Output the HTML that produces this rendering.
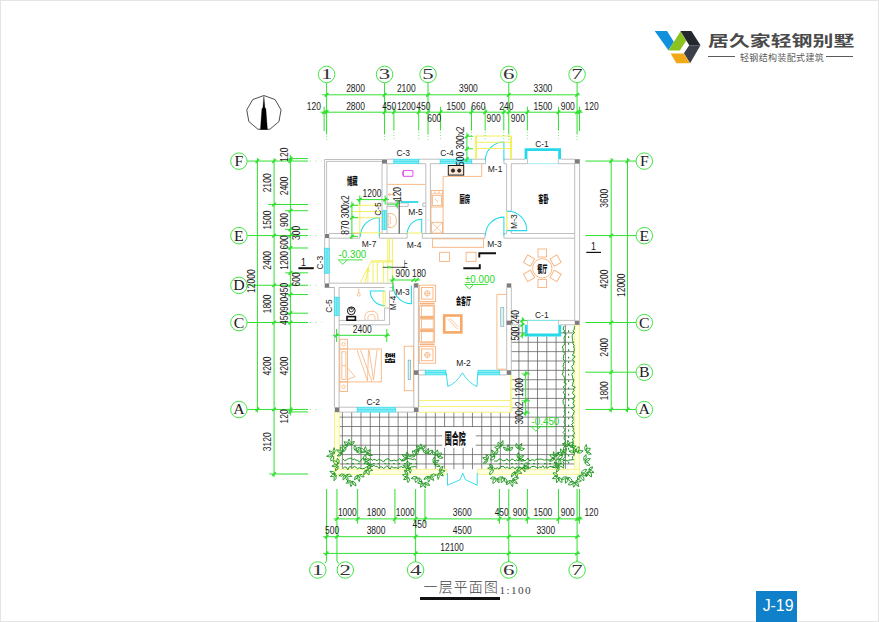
<!DOCTYPE html>
<html lang="zh"><head><meta charset="utf-8"><title>一层平面图 J-19</title>
<style>
html,body{margin:0;padding:0;background:#fff;}
body{width:879px;height:622px;overflow:hidden;position:relative;font-family:"Liberation Sans","Noto Sans CJK SC",sans-serif;}
#frame{position:absolute;left:0;top:0;width:877px;height:620px;border:1px solid #e4e4e4;}
svg{position:absolute;left:0;top:0;}
.ls{font-family:"Liberation Sans","Noto Sans CJK SC",sans-serif;}
.lf{font-family:"Liberation Serif","Noto Serif CJK SC",serif;}
.cj{font-family:"Liberation Sans","Noto Sans CJK SC",sans-serif;}
.brand{position:absolute;left:708px;top:29.3px;width:145px;height:24px;font-weight:700;color:#4a4a4a;font-size:14.3px;line-height:24px;white-space:nowrap;transform-origin:0 0;transform:scale(1.462,1);letter-spacing:0;}
.sub{position:absolute;left:740px;top:51px;font-size:9px;line-height:14px;color:#5a5a5a;white-space:nowrap;letter-spacing:0.35px;}
.hr{position:absolute;top:56px;height:1px;background:#5a5a5a;}
.title{position:absolute;left:423.6px;top:577px;font-size:13.9px;line-height:20px;color:#444;letter-spacing:1.2px;white-space:nowrap;font-family:"Liberation Sans","Noto Sans CJK SC",sans-serif;font-weight:300;}
.scale{position:absolute;left:499.6px;top:581.8px;font-size:11.2px;line-height:16px;color:#444;letter-spacing:1.35px;white-space:nowrap;font-family:"Liberation Serif",serif;}
.uline{position:absolute;left:419.7px;top:597.2px;width:80px;height:2.5px;background:#111;}
.tag{position:absolute;left:756px;top:591px;width:41.4px;height:31px;text-indent:2.8px;background:#0f80c9;color:#fff;font-size:15.9px;line-height:30.6px;text-align:center;}
</style></head><body>
<div id="frame"></div>
<svg width="879" height="622" viewBox="0 0 879 622">
<g id="logo">
<polygon points="654.7,31.1 667.1,31.1 673.9,41.9 668.4,50.3" fill="#1191dc"/>
<polygon points="680.4,31.5 686.2,40.8 679.9,50.5 668.4,50.5" fill="#8cc220"/>
<polygon points="680.4,31.1 691.4,31.1 700.5,45.2 689.2,45.2" fill="#24272e"/>
<polygon points="689.2,45.2 700.5,45.2 690.1,63.3 683.9,53.2" fill="#3b404b"/>
<polygon points="670.6,53.6 683.9,53.6 689.7,63.3 676.4,63.3" fill="#f1a917"/>
</g>
<g stroke="#666666" stroke-width="0.8">
<line x1="342.4" y1="412.3" x2="342.4" y2="469.2"/>
<line x1="351.69" y1="412.3" x2="351.69" y2="469.2"/>
<line x1="360.98" y1="412.3" x2="360.98" y2="469.2"/>
<line x1="370.27" y1="412.3" x2="370.27" y2="469.2"/>
<line x1="379.56" y1="412.3" x2="379.56" y2="469.2"/>
<line x1="388.85" y1="412.3" x2="388.85" y2="469.2"/>
<line x1="398.14" y1="412.3" x2="398.14" y2="469.2"/>
<line x1="407.43" y1="412.3" x2="407.43" y2="469.2"/>
<line x1="416.72" y1="412.3" x2="416.72" y2="469.2"/>
<line x1="426.01" y1="412.3" x2="426.01" y2="469.2"/>
<line x1="435.3" y1="412.3" x2="435.3" y2="469.2"/>
<line x1="444.59" y1="412.3" x2="444.59" y2="469.2"/>
<line x1="453.88" y1="412.3" x2="453.88" y2="469.2"/>
<line x1="463.17" y1="412.3" x2="463.17" y2="469.2"/>
<line x1="472.46" y1="412.3" x2="472.46" y2="469.2"/>
<line x1="481.75" y1="412.3" x2="481.75" y2="469.2"/>
<line x1="491.04" y1="412.3" x2="491.04" y2="469.2"/>
<line x1="500.33" y1="412.3" x2="500.33" y2="469.2"/>
<line x1="509.62" y1="412.3" x2="509.62" y2="469.2"/>
<line x1="518.91" y1="325" x2="518.91" y2="469.2"/>
<line x1="528.2" y1="336.5" x2="528.2" y2="469.2"/>
<line x1="537.49" y1="336.5" x2="537.49" y2="469.2"/>
<line x1="546.78" y1="336.5" x2="546.78" y2="469.2"/>
<line x1="556.07" y1="336.5" x2="556.07" y2="469.2"/>
<line x1="565.36" y1="325" x2="565.36" y2="469.2"/>
<line x1="511.3" y1="332.91" x2="525" y2="332.91"/>
<line x1="561" y1="332.91" x2="574.6" y2="332.91"/>
<line x1="511.3" y1="342.27" x2="574.6" y2="342.27"/>
<line x1="511.3" y1="351.63" x2="574.6" y2="351.63"/>
<line x1="511.3" y1="360.99" x2="574.6" y2="360.99"/>
<line x1="511.3" y1="370.35" x2="574.6" y2="370.35"/>
<line x1="511.3" y1="379.71" x2="574.6" y2="379.71"/>
<line x1="511.3" y1="389.07" x2="574.6" y2="389.07"/>
<line x1="511.3" y1="398.43" x2="574.6" y2="398.43"/>
<line x1="511.3" y1="407.79" x2="574.6" y2="407.79"/>
<line x1="339.3" y1="417.15" x2="574.6" y2="417.15"/>
<line x1="339.3" y1="426.51" x2="574.6" y2="426.51"/>
<line x1="339.3" y1="435.87" x2="574.6" y2="435.87"/>
<line x1="339.3" y1="445.23" x2="574.6" y2="445.23"/>
<line x1="339.3" y1="454.59" x2="574.6" y2="454.59"/>
<line x1="339.3" y1="463.95" x2="574.6" y2="463.95"/>
</g>
<rect x="442.3" y="427.1" width="33.4" height="20.7" fill="#fff" stroke="none" stroke-width="0.8" />
<rect x="334.5" y="412.1" width="4.8" height="62.2" fill="#ffffe4" stroke="#f5f278" stroke-width="0.8" />
<rect x="574.7" y="324.9" width="4.9" height="149.4" fill="#ffffe4" stroke="#f5f278" stroke-width="0.8" />
<rect x="334.5" y="469.2" width="112.4" height="5.1" fill="#ffffe4" stroke="#f5f278" stroke-width="0.8" />
<rect x="477.8" y="469.2" width="101.8" height="5.1" fill="#ffffe4" stroke="#f5f278" stroke-width="0.8" />
<line x1="418.6" y1="400.5" x2="511" y2="400.5" stroke="#f5f278" stroke-width="1.0" />
<line x1="418.6" y1="406.6" x2="511" y2="406.6" stroke="#f5f278" stroke-width="1.0" />
<line x1="418.6" y1="412.2" x2="511" y2="412.2" stroke="#f5f278" stroke-width="1.0" />
<line x1="510.4" y1="375" x2="510.4" y2="412.2" stroke="#f5f278" stroke-width="0.9" />
<line x1="511.8" y1="375" x2="511.8" y2="412.2" stroke="#f5f278" stroke-width="0.9" />
<line x1="418.7" y1="375" x2="418.7" y2="407" stroke="#adadad" stroke-width="0.8" />
<line x1="324.6" y1="159.5" x2="382" y2="159.5" stroke="#adadad" stroke-width="0.8" />
<line x1="326.6" y1="161.4" x2="382" y2="161.4" stroke="#adadad" stroke-width="0.8" />
<line x1="324.6" y1="159.5" x2="324.6" y2="234" stroke="#adadad" stroke-width="0.8" />
<line x1="326.6" y1="161.4" x2="326.6" y2="233.5" stroke="#adadad" stroke-width="0.8" />
<line x1="387" y1="159.2" x2="393.8" y2="159.2" stroke="#adadad" stroke-width="0.8" />
<line x1="387" y1="163.7" x2="393.8" y2="163.7" stroke="#adadad" stroke-width="0.8" />
<rect x="393.8" y="159.2" width="25" height="4.5" fill="#86ecf4" stroke="#25d9ea" stroke-width="0.7" />
<line x1="393.8" y1="161.45" x2="418.8" y2="161.45" stroke="#25d9ea" stroke-width="0.6" />
<line x1="418.8" y1="159.2" x2="440.1" y2="159.2" stroke="#adadad" stroke-width="0.8" />
<line x1="418.8" y1="163.7" x2="425.8" y2="163.7" stroke="#adadad" stroke-width="0.8" />
<line x1="430.4" y1="163.7" x2="440.1" y2="163.7" stroke="#adadad" stroke-width="0.8" />
<rect x="440.1" y="159.2" width="31.7" height="4.5" fill="#86ecf4" stroke="#25d9ea" stroke-width="0.7" />
<line x1="440.1" y1="161.45" x2="471.8" y2="161.45" stroke="#25d9ea" stroke-width="0.6" />
<line x1="471.8" y1="159.2" x2="485.5" y2="159.2" stroke="#adadad" stroke-width="0.8" />
<line x1="471.8" y1="163.7" x2="485.5" y2="163.7" stroke="#adadad" stroke-width="0.8" />
<line x1="485.5" y1="159.2" x2="485.5" y2="163.7" stroke="#adadad" stroke-width="0.8" />
<line x1="503.9" y1="159.2" x2="525" y2="159.2" stroke="#adadad" stroke-width="0.8" />
<line x1="503.9" y1="159.2" x2="503.9" y2="163.7" stroke="#adadad" stroke-width="0.8" />
<line x1="503.9" y1="163.7" x2="506.6" y2="163.7" stroke="#adadad" stroke-width="0.8" />
<line x1="511.3" y1="163.7" x2="527.5" y2="163.7" stroke="#adadad" stroke-width="0.8" />
<line x1="561" y1="159.2" x2="574.7" y2="159.2" stroke="#adadad" stroke-width="0.8" />
<line x1="558.3" y1="163.7" x2="574.7" y2="163.7" stroke="#adadad" stroke-width="0.8" />
<path d="M526 159.2 V149.7 H559.6 V159.2" fill="none" stroke="#25d9ea" stroke-width="2.8" />
<line x1="527.5" y1="163.7" x2="558.3" y2="163.7" stroke="#9eeaf2" stroke-width="0.9" />
<line x1="527.5" y1="159.2" x2="527.5" y2="163.7" stroke="#adadad" stroke-width="0.7" />
<line x1="558.3" y1="159.2" x2="558.3" y2="163.7" stroke="#adadad" stroke-width="0.7" />
<line x1="382" y1="163.6" x2="382" y2="233.5" stroke="#adadad" stroke-width="0.8" />
<line x1="387" y1="163.6" x2="387" y2="233.5" stroke="#adadad" stroke-width="0.8" />
<rect x="382.6" y="210.7" width="3.7" height="18.8" fill="#86ecf4" stroke="#25d9ea" stroke-width="0.7" />
<line x1="384.45" y1="210.7" x2="384.45" y2="229.5" stroke="#25d9ea" stroke-width="0.6" />
<line x1="387" y1="203" x2="408.2" y2="203" stroke="#adadad" stroke-width="0.8" />
<line x1="387" y1="206.4" x2="408.2" y2="206.4" stroke="#adadad" stroke-width="0.8" />
<line x1="408.2" y1="203" x2="408.2" y2="206.4" stroke="#adadad" stroke-width="0.8" />
<line x1="422.8" y1="203" x2="425.8" y2="203" stroke="#adadad" stroke-width="0.8" />
<line x1="422.8" y1="206.4" x2="425.8" y2="206.4" stroke="#adadad" stroke-width="0.8" />
<line x1="422.8" y1="203" x2="422.8" y2="206.4" stroke="#adadad" stroke-width="0.8" />
<line x1="425.8" y1="163.7" x2="425.8" y2="233.5" stroke="#adadad" stroke-width="0.8" />
<line x1="430.4" y1="163.7" x2="430.4" y2="233.5" stroke="#adadad" stroke-width="0.8" />
<line x1="506.6" y1="163.7" x2="506.6" y2="211.5" stroke="#adadad" stroke-width="0.8" />
<line x1="511.3" y1="163.7" x2="511.3" y2="211.5" stroke="#adadad" stroke-width="0.8" />
<line x1="506.6" y1="211.5" x2="511.3" y2="211.5" stroke="#adadad" stroke-width="0.8" />
<line x1="506.6" y1="230.3" x2="506.6" y2="233.5" stroke="#adadad" stroke-width="0.8" />
<line x1="511.3" y1="230.3" x2="511.3" y2="233.5" stroke="#adadad" stroke-width="0.8" />
<line x1="506.6" y1="230.3" x2="511.3" y2="230.3" stroke="#adadad" stroke-width="0.8" />
<line x1="574.7" y1="163.7" x2="574.7" y2="320.7" stroke="#adadad" stroke-width="0.8" />
<line x1="579.6" y1="163.7" x2="579.6" y2="320.7" stroke="#adadad" stroke-width="0.8" />
<line x1="579.6" y1="159.2" x2="579.6" y2="163.7" stroke="#adadad" stroke-width="0.8" />
<line x1="329.2" y1="233.5" x2="359.8" y2="233.5" stroke="#adadad" stroke-width="0.8" />
<line x1="329.2" y1="238.2" x2="359.8" y2="238.2" stroke="#adadad" stroke-width="0.8" />
<line x1="359.8" y1="233.5" x2="359.8" y2="238.2" stroke="#adadad" stroke-width="0.8" />
<line x1="379.4" y1="233.5" x2="407.1" y2="233.5" stroke="#adadad" stroke-width="0.8" />
<line x1="379.4" y1="238.2" x2="407.1" y2="238.2" stroke="#adadad" stroke-width="0.8" />
<line x1="379.4" y1="233.5" x2="379.4" y2="238.2" stroke="#adadad" stroke-width="0.8" />
<line x1="407.1" y1="233.5" x2="407.1" y2="238.2" stroke="#adadad" stroke-width="0.8" />
<line x1="422.3" y1="233.5" x2="485" y2="233.5" stroke="#adadad" stroke-width="0.8" />
<line x1="422.3" y1="238.2" x2="485" y2="238.2" stroke="#adadad" stroke-width="0.8" />
<line x1="422.3" y1="233.5" x2="422.3" y2="238.2" stroke="#adadad" stroke-width="0.8" />
<line x1="485" y1="233.5" x2="485" y2="238.2" stroke="#adadad" stroke-width="0.8" />
<line x1="503.9" y1="233.5" x2="506.6" y2="233.5" stroke="#adadad" stroke-width="0.8" />
<line x1="511.3" y1="233.5" x2="574.7" y2="233.5" stroke="#adadad" stroke-width="0.8" />
<line x1="503.9" y1="238.2" x2="574.7" y2="238.2" stroke="#adadad" stroke-width="0.8" />
<line x1="503.9" y1="233.5" x2="503.9" y2="238.2" stroke="#adadad" stroke-width="0.8" />
<line x1="324.7" y1="238.2" x2="324.7" y2="283.2" stroke="#adadad" stroke-width="0.8" />
<line x1="329.2" y1="238.2" x2="329.2" y2="283.2" stroke="#adadad" stroke-width="0.8" />
<rect x="324.7" y="248.2" width="4.5" height="25" fill="#86ecf4" stroke="#25d9ea" stroke-width="0.7" />
<line x1="326.95" y1="248.2" x2="326.95" y2="273.2" stroke="#25d9ea" stroke-width="0.6" />
<line x1="329.2" y1="283.2" x2="393.7" y2="283.2" stroke="#adadad" stroke-width="0.8" />
<line x1="329.2" y1="287.5" x2="334.4" y2="287.5" stroke="#adadad" stroke-width="0.8" />
<line x1="339.1" y1="287.5" x2="384.6" y2="287.5" stroke="#adadad" stroke-width="0.8" />
<line x1="389.5" y1="287.5" x2="393.7" y2="287.5" stroke="#adadad" stroke-width="0.8" />
<line x1="393.7" y1="283.2" x2="393.7" y2="291" stroke="#adadad" stroke-width="0.8" />
<line x1="389.5" y1="291" x2="393.7" y2="291" stroke="#adadad" stroke-width="0.8" />
<line x1="324.7" y1="287.5" x2="334.4" y2="287.5" stroke="#adadad" stroke-width="0.8" />
<line x1="334.4" y1="287.5" x2="334.4" y2="407.5" stroke="#adadad" stroke-width="0.8" />
<line x1="339.1" y1="287.5" x2="339.1" y2="407.5" stroke="#adadad" stroke-width="0.8" />
<rect x="334.4" y="297.2" width="4.7" height="18.2" fill="#86ecf4" stroke="#25d9ea" stroke-width="0.7" />
<line x1="336.75" y1="297.2" x2="336.75" y2="315.4" stroke="#25d9ea" stroke-width="0.6" />
<line x1="384.6" y1="308" x2="384.6" y2="320.4" stroke="#adadad" stroke-width="0.8" />
<line x1="389.5" y1="291" x2="389.5" y2="324.8" stroke="#adadad" stroke-width="0.8" />
<line x1="384.6" y1="308" x2="389.5" y2="308" stroke="#adadad" stroke-width="0.8" />
<line x1="339.1" y1="320.4" x2="384.6" y2="320.4" stroke="#adadad" stroke-width="0.8" />
<line x1="339.1" y1="324.8" x2="389.5" y2="324.8" stroke="#adadad" stroke-width="0.8" />
<line x1="413.8" y1="287.6" x2="413.8" y2="407.4" stroke="#adadad" stroke-width="0.8" />
<line x1="418.4" y1="287.6" x2="418.4" y2="407.4" stroke="#adadad" stroke-width="0.8" />
<line x1="339.5" y1="407.2" x2="357.2" y2="407.2" stroke="#adadad" stroke-width="0.8" />
<line x1="339.5" y1="412.1" x2="357.2" y2="412.1" stroke="#adadad" stroke-width="0.8" />
<rect x="357.2" y="407.2" width="38.2" height="4.9" fill="#86ecf4" stroke="#25d9ea" stroke-width="0.7" />
<line x1="357.2" y1="409.65" x2="395.4" y2="409.65" stroke="#25d9ea" stroke-width="0.6" />
<line x1="395.4" y1="407.2" x2="414.2" y2="407.2" stroke="#adadad" stroke-width="0.8" />
<line x1="395.4" y1="412.1" x2="414.2" y2="412.1" stroke="#adadad" stroke-width="0.8" />
<line x1="418.5" y1="370.2" x2="425.2" y2="370.2" stroke="#adadad" stroke-width="0.8" />
<line x1="418.5" y1="374.9" x2="425.2" y2="374.9" stroke="#adadad" stroke-width="0.8" />
<rect x="425.2" y="370.2" width="20.7" height="4.7" fill="#86ecf4" stroke="#25d9ea" stroke-width="0.7" />
<line x1="425.2" y1="372.55" x2="445.9" y2="372.55" stroke="#25d9ea" stroke-width="0.6" />
<rect x="478" y="370.2" width="21.7" height="4.7" fill="#86ecf4" stroke="#25d9ea" stroke-width="0.7" />
<line x1="478" y1="372.55" x2="499.7" y2="372.55" stroke="#25d9ea" stroke-width="0.6" />
<line x1="499.7" y1="370.2" x2="506.7" y2="370.2" stroke="#adadad" stroke-width="0.8" />
<line x1="499.7" y1="374.9" x2="506.7" y2="374.9" stroke="#adadad" stroke-width="0.8" />
<line x1="506.7" y1="287.5" x2="506.7" y2="370.2" stroke="#adadad" stroke-width="0.8" />
<line x1="511.3" y1="287.5" x2="511.3" y2="370.2" stroke="#adadad" stroke-width="0.8" />
<line x1="511.3" y1="320.4" x2="574.8" y2="320.4" stroke="#adadad" stroke-width="0.8" />
<line x1="511.3" y1="324.8" x2="525" y2="324.8" stroke="#adadad" stroke-width="0.8" />
<line x1="561" y1="324.8" x2="574.8" y2="324.8" stroke="#adadad" stroke-width="0.8" />
<line x1="527" y1="320.4" x2="558.8" y2="320.4" stroke="#7fe6f0" stroke-width="1.0" />
<path d="M526.3 324.8 V335 H559.8 V324.8" fill="none" stroke="#25d9ea" stroke-width="2.8" />
<line x1="527.6" y1="320.4" x2="527.6" y2="324.8" stroke="#adadad" stroke-width="0.7" />
<line x1="558.5" y1="320.4" x2="558.5" y2="324.8" stroke="#adadad" stroke-width="0.7" />
<rect x="382" y="159.4" width="5" height="4.2" fill="#7d7d7d" stroke="none" stroke-width="0.8" />
<rect x="574.7" y="159.2" width="4.9" height="4.5" fill="#7d7d7d" stroke="none" stroke-width="0.8" />
<rect x="324.7" y="234" width="4.5" height="4.1" fill="#7d7d7d" stroke="none" stroke-width="0.8" />
<rect x="324.7" y="283.4" width="4.5" height="4.1" fill="#7d7d7d" stroke="none" stroke-width="0.8" />
<rect x="413.8" y="283.3" width="4.6" height="4.3" fill="#7d7d7d" stroke="none" stroke-width="0.8" />
<rect x="506.7" y="283.4" width="4.6" height="4.2" fill="#7d7d7d" stroke="none" stroke-width="0.8" />
<rect x="506.7" y="320.6" width="4.6" height="4.3" fill="#7d7d7d" stroke="none" stroke-width="0.8" />
<rect x="574.8" y="320.6" width="4.8" height="4.3" fill="#7d7d7d" stroke="none" stroke-width="0.8" />
<rect x="413.9" y="370.3" width="4.6" height="4.6" fill="#7d7d7d" stroke="none" stroke-width="0.8" />
<rect x="506.7" y="370.2" width="4.6" height="4.7" fill="#7d7d7d" stroke="none" stroke-width="0.8" />
<rect x="334.8" y="407.4" width="4.6" height="4.7" fill="#7d7d7d" stroke="none" stroke-width="0.8" />
<rect x="413.9" y="407.4" width="4.6" height="4.7" fill="#7d7d7d" stroke="none" stroke-width="0.8" />
<path d="M503.9 160.5 L503.9 141.9 A18.6 18.6 0 0 0 485.3 160.5" fill="none" stroke="#25d9ea" stroke-width="1.05" />
<path d="M379.3 236.5 L379.3 217.7 A18.8 18.8 0 0 0 360.5 236.5" fill="none" stroke="#25d9ea" stroke-width="1.05" />
<path d="M421.7 233.6 L421.7 219.3 A14.3 14.3 0 0 0 407.4 233.6" fill="none" stroke="#25d9ea" stroke-width="1.05" />
<path d="M503.9 235.5 L503.9 217.1 A18.4 18.4 0 0 0 485.5 235.5" fill="none" stroke="#25d9ea" stroke-width="1.05" />
<line x1="506.9" y1="211.5" x2="506.9" y2="230.3" stroke="#f1ed4e" stroke-width="1.2" />
<path d="M507.2 230.6 L526.8 230.6 A19.6 19.6 0 0 0 507.2 211" fill="none" stroke="#25d9ea" stroke-width="1.05" />
<path d="M384.8 291 L370.2 291 A14.6 14.6 0 0 0 384.8 305.6" fill="none" stroke="#25d9ea" stroke-width="1.05" />
<line x1="383.2" y1="291" x2="383.2" y2="307" stroke="#f1ed4e" stroke-width="0.9" />
<line x1="385.2" y1="291" x2="385.2" y2="307" stroke="#f1ed4e" stroke-width="0.9" />
<path d="M411.4 285.6 L411.4 303.8 A18.2 18.2 0 0 1 393.2 285.6" fill="none" stroke="#25d9ea" stroke-width="1.05" />
<line x1="407.1" y1="233" x2="422.3" y2="233" stroke="#f1ed4e" stroke-width="0.9" />
<path d="M446.2 372.5 L447.8 386.4 Q456 383.5 462.4 372.8 Q469 383.5 477 386.4 L477.8 372.5" fill="none" stroke="#25d9ea" stroke-width="0.9" />
<path d="M447.5 473 L447.5 485.3 L460.3 479.6 L462.7 473 L465.4 479.6 L477.2 485.3 L477.2 473" fill="none" stroke="#25d9ea" stroke-width="0.9" />
<line x1="400.9" y1="202" x2="418.3" y2="202" stroke="#25d9ea" stroke-width="1.8" />
<line x1="475.3" y1="136" x2="475.3" y2="159.2" stroke="#f1ed4e" stroke-width="0.9" />
<line x1="476.5" y1="136" x2="476.5" y2="159.2" stroke="#f1ed4e" stroke-width="0.9" />
<line x1="510.4" y1="136" x2="510.4" y2="159.2" stroke="#f1ed4e" stroke-width="0.9" />
<line x1="511.5" y1="136" x2="511.5" y2="159.2" stroke="#f1ed4e" stroke-width="0.9" />
<line x1="475.3" y1="136" x2="511.5" y2="136" stroke="#f1ed4e" stroke-width="0.9" />
<line x1="475.3" y1="142.3" x2="511.5" y2="142.3" stroke="#f1ed4e" stroke-width="0.9" />
<line x1="475.3" y1="148.5" x2="511.5" y2="148.5" stroke="#f1ed4e" stroke-width="0.9" />
<line x1="359.8" y1="200" x2="359.8" y2="233.3" stroke="#f1ed4e" stroke-width="0.9" />
<line x1="352" y1="205.3" x2="382" y2="205.3" stroke="#f1ed4e" stroke-width="0.9" />
<line x1="352" y1="211.5" x2="382" y2="211.5" stroke="#f1ed4e" stroke-width="0.9" />
<line x1="352" y1="217.7" x2="382" y2="217.7" stroke="#f1ed4e" stroke-width="0.9" />
<line x1="352" y1="232.9" x2="382" y2="232.9" stroke="#f1ed4e" stroke-width="0.9" />
<line x1="371.3" y1="260.8" x2="393.5" y2="260.8" stroke="#f1ed4e" stroke-width="0.9" />
<line x1="371.3" y1="262" x2="393.5" y2="262" stroke="#f1ed4e" stroke-width="0.9" />
<line x1="371.3" y1="261.3" x2="360" y2="283" stroke="#f1ed4e" stroke-width="0.9" />
<line x1="367.9" y1="268" x2="367.9" y2="283" stroke="#f1ed4e" stroke-width="0.9" />
<line x1="373" y1="262" x2="373" y2="283" stroke="#f1ed4e" stroke-width="0.9" />
<line x1="377.4" y1="262" x2="377.4" y2="283" stroke="#f1ed4e" stroke-width="0.9" />
<line x1="383.3" y1="262" x2="383.3" y2="283" stroke="#f1ed4e" stroke-width="0.9" />
<line x1="387.8" y1="238.2" x2="387.8" y2="283" stroke="#f1ed4e" stroke-width="0.9" />
<line x1="392.4" y1="238.2" x2="392.4" y2="283" stroke="#f1ed4e" stroke-width="0.9" />
<line x1="389.4" y1="238.2" x2="389.4" y2="262" stroke="#f1ed4e" stroke-width="0.9" />
<path d="M365 283 L368.6 268.5 M366.4 271.5 L368.6 268.5 L369 272" fill="none" stroke="#f1ed4e" stroke-width="0.9" />
<line x1="382.7" y1="267.3" x2="405" y2="267.3" stroke="#222" stroke-width="0.8" />
<line x1="387.5" y1="267.3" x2="391" y2="267.3" stroke="#2fe02f" stroke-width="1.8" />
<path d="M481.7 163.9 V176.4 H443.1 V233.4" fill="none" stroke="#f6b27c" stroke-width="0.9" />
<rect x="448.3" y="165.5" width="15.4" height="9.6" fill="#fbe6d6" stroke="#1a1a1a" stroke-width="1.0" />
<circle cx="453" cy="170.6" r="1.6" fill="#333" stroke="#111" stroke-width="0.8"/>
<circle cx="459.2" cy="170.6" r="1.6" fill="#333" stroke="#111" stroke-width="0.8"/>
<rect x="431.2" y="190.4" width="11.6" height="16.6" fill="none" stroke="#f6b27c" stroke-width="0.9" />
<rect x="432.6" y="195.5" width="8.8" height="10.1" fill="none" stroke="#f6b27c" stroke-width="0.8" />
<line x1="431.2" y1="193.8" x2="442.8" y2="193.8" stroke="#f6b27c" stroke-width="0.8" />
<path d="M435 199 L438 202" fill="none" stroke="#f6b27c" stroke-width="0.8" />
<circle cx="435" cy="192.2" r="0.6" fill="none" stroke="#f6b27c" stroke-width="0.6"/>
<circle cx="439" cy="192.2" r="0.6" fill="none" stroke="#f6b27c" stroke-width="0.6"/>
<rect x="431.6" y="222.3" width="11" height="10.8" fill="none" stroke="#f6b27c" stroke-width="0.9" />
<line x1="431.6" y1="222.3" x2="442.6" y2="233.1" stroke="#f6b27c" stroke-width="0.7" />
<line x1="442.6" y1="222.3" x2="431.6" y2="233.1" stroke="#f6b27c" stroke-width="0.7" />
<line x1="431" y1="207" x2="431" y2="222.3" stroke="#f6b27c" stroke-width="0.8" />
<line x1="387.2" y1="184.4" x2="425.6" y2="184.4" stroke="#f6b27c" stroke-width="0.9" />
<path d="M388.2 194.6 H392.5 M388.2 194.6 l1.6 -1.2 M388.2 194.6 l1.6 1.2" fill="none" stroke="#f6b27c" stroke-width="0.9" />
<circle cx="393.6" cy="194.6" r="1.1" fill="none" stroke="#f6b27c" stroke-width="0.8"/>
<path d="M403.4 170.6 H412.9 V176.3 H403.4 Z M403.4 170.6 Q401.3 173.4 403.4 176.3" fill="none" stroke="#e23be2" stroke-width="0.9" />
<path d="M388 213.5 Q396.5 212.5 396.5 220.5 Q396.5 228.5 388 227.5 Z" fill="none" stroke="#f6b27c" stroke-width="0.9" />
<path d="M388.4 216.5 Q391.8 216.8 390 220.5 Q391.8 224.2 388.4 224.5" fill="none" stroke="#f6b27c" stroke-width="0.8" />
<line x1="399.2" y1="200.8" x2="399.2" y2="233.5" stroke="#222" stroke-width="0.9" />
<line x1="395.2" y1="200.8" x2="401.6" y2="200.8" stroke="#222" stroke-width="0.9" />
<rect x="432.4" y="238.8" width="51.2" height="8.5" fill="none" stroke="#f6b27c" stroke-width="0.9" />
<rect x="439.6" y="252.3" width="9.8" height="9.1" fill="none" stroke="#f6b27c" stroke-width="0.9" />
<rect x="466.1" y="252.3" width="9.9" height="9.1" fill="none" stroke="#f6b27c" stroke-width="0.9" />
<path d="M479.3 257.4 V253.2 H496" fill="none" stroke="#111" stroke-width="1.9" />
<path d="M463.3 268.3 H479.8 V264.2" fill="none" stroke="#111" stroke-width="1.9" />
<circle cx="542.3" cy="268.3" r="9.7" fill="none" stroke="#f6b27c" stroke-width="0.9"/>
<rect x="-4.3" y="-4" width="8.6" height="8" fill="none" stroke="#f6b27c" stroke-width="0.9" transform="translate(542.3 253) rotate(0)"/>
<rect x="-4.3" y="-4" width="8.6" height="8" fill="none" stroke="#f6b27c" stroke-width="0.9" transform="translate(555.55 260.65) rotate(60)"/>
<rect x="-4.3" y="-4" width="8.6" height="8" fill="none" stroke="#f6b27c" stroke-width="0.9" transform="translate(555.55 275.95) rotate(120)"/>
<rect x="-4.3" y="-4" width="8.6" height="8" fill="none" stroke="#f6b27c" stroke-width="0.9" transform="translate(542.3 283.6) rotate(180)"/>
<rect x="-4.3" y="-4" width="8.6" height="8" fill="none" stroke="#f6b27c" stroke-width="0.9" transform="translate(529.05 275.95) rotate(240)"/>
<rect x="-4.3" y="-4" width="8.6" height="8" fill="none" stroke="#f6b27c" stroke-width="0.9" transform="translate(529.05 260.65) rotate(-60)"/>
<rect x="419.3" y="285.2" width="16.3" height="16.4" fill="none" stroke="#f6b27c" stroke-width="0.9" />
<rect x="421.5" y="287.5" width="11.5" height="11.6" fill="none" stroke="#f6b27c" stroke-width="0.9" />
<circle cx="427.25" cy="293.4" r="2.6" fill="none" stroke="#f6b27c" stroke-width="0.8"/>
<line x1="423.85" y1="293.4" x2="430.65" y2="293.4" stroke="#f6b27c" stroke-width="0.7" />
<line x1="427.25" y1="290" x2="427.25" y2="296.8" stroke="#f6b27c" stroke-width="0.7" />
<rect x="419.3" y="346.7" width="16.3" height="16.5" fill="none" stroke="#f6b27c" stroke-width="0.9" />
<rect x="421.5" y="349" width="11.5" height="11.7" fill="none" stroke="#f6b27c" stroke-width="0.9" />
<circle cx="427.25" cy="354.95" r="2.6" fill="none" stroke="#f6b27c" stroke-width="0.8"/>
<line x1="423.85" y1="354.95" x2="430.65" y2="354.95" stroke="#f6b27c" stroke-width="0.7" />
<line x1="427.25" y1="351.55" x2="427.25" y2="358.35" stroke="#f6b27c" stroke-width="0.7" />
<rect x="419.4" y="305.7" width="15.2" height="10.8" fill="none" stroke="#f6b27c" stroke-width="0.9" />
<rect x="421.6" y="306" width="11.6" height="10.2" fill="none" stroke="#f6b27c" stroke-width="0.8" />
<rect x="419.4" y="318.8" width="15.2" height="10.4" fill="none" stroke="#f6b27c" stroke-width="0.9" />
<rect x="421.6" y="319.1" width="11.6" height="9.8" fill="none" stroke="#f6b27c" stroke-width="0.8" />
<rect x="419.4" y="331.4" width="15.2" height="10.8" fill="none" stroke="#f6b27c" stroke-width="0.9" />
<rect x="421.6" y="331.7" width="11.6" height="10.2" fill="none" stroke="#f6b27c" stroke-width="0.8" />
<line x1="419.4" y1="303.6" x2="434.6" y2="303.6" stroke="#f6b27c" stroke-width="1.8" />
<line x1="419.4" y1="317.7" x2="434.6" y2="317.7" stroke="#f6b27c" stroke-width="1.8" />
<line x1="419.4" y1="330.3" x2="434.6" y2="330.3" stroke="#f6b27c" stroke-width="1.8" />
<line x1="419.4" y1="344.4" x2="434.6" y2="344.4" stroke="#f6b27c" stroke-width="1.8" />
<rect x="444.2" y="315.5" width="17.1" height="16.9" fill="none" stroke="#f5a868" stroke-width="2.6" />
<line x1="447.5" y1="318.8" x2="457.8" y2="329.3" stroke="#f6b27c" stroke-width="0.8" />
<line x1="449.8" y1="318.2" x2="458.6" y2="327" stroke="#f6b27c" stroke-width="0.8" />
<path d="M506.7 294.4 H496.9 V369.2 H506.7" fill="none" stroke="#f6b27c" stroke-width="0.9" />
<rect x="500.7" y="307.5" width="3" height="18.8" fill="#dff3f5" stroke="#8fb9bd" stroke-width="0.8" />
<path d="M358.8 288.5 V293" fill="none" stroke="#f6b27c" stroke-width="0.9" />
<circle cx="358.8" cy="294.6" r="1.5" fill="none" stroke="#f6b27c" stroke-width="0.8"/>
<rect x="347" y="316.6" width="8.4" height="3.6" fill="#fff" stroke="#111" stroke-width="1.6" />
<circle cx="351.3" cy="310.8" r="3.9" fill="none" stroke="#111" stroke-width="1.0"/>
<circle cx="351.3" cy="309.8" r="2.1" fill="none" stroke="#111" stroke-width="0.8"/>
<line x1="351.3" y1="307.8" x2="351.3" y2="309.8" stroke="#111" stroke-width="0.8" />
<path d="M365 320 Q363.5 311 371.5 311.3 Q378.5 310.5 378 320 M368 319.8 Q367 314.5 371.5 314.5 Q375.8 314.3 375 319.8" fill="none" stroke="#f6b27c" stroke-width="0.8" />
<rect x="339.8" y="339.3" width="7.7" height="9.7" fill="none" stroke="#f6b27c" stroke-width="0.9" />
<rect x="339.8" y="381.9" width="7.7" height="9.6" fill="none" stroke="#f6b27c" stroke-width="0.9" />
<circle cx="343.6" cy="344.2" r="1.7" fill="none" stroke="#f6b27c" stroke-width="0.8"/>
<circle cx="343.6" cy="386.7" r="1.7" fill="none" stroke="#f6b27c" stroke-width="0.8"/>
<rect x="339.8" y="349" width="41.5" height="32.9" fill="none" stroke="#f6b27c" stroke-width="0.9" />
<line x1="347.5" y1="349" x2="347.5" y2="381.9" stroke="#f6b27c" stroke-width="0.9" />
<rect x="341.9" y="351.8" width="4" height="27.7" fill="none" stroke="#f6b27c" stroke-width="0.8" />
<line x1="341.9" y1="365.6" x2="345.9" y2="365.6" stroke="#f6b27c" stroke-width="0.8" />
<path d="M347.5 368 L355 376.5 L347.5 379.5 M357 350 L367.5 381 L368.5 350 M369 350 L373.5 380 L377 350 M360.5 350 L372 381.5" fill="none" stroke="#f6b27c" stroke-width="0.8" />
<rect x="404.3" y="346.2" width="9.2" height="44.5" fill="none" stroke="#f6b27c" stroke-width="0.9" />
<rect x="408.2" y="360.2" width="2.3" height="19.3" fill="#dff3f5" stroke="#6fb7bf" stroke-width="0.8" />
<path d="M343 459.08 L344.62 460.61 L346.24 459.99 L347.87 458.75 L349.49 458.7 L351.11 457.89 L352.73 459.7 L354.36 458.92 L355.98 460.23 L357.6 460.1 L359.22 462.13 L360.84 460.83 L362.47 458.24 L364.09 459.4 L365.71 459.07 L367.33 460.26 L368.96 460.12 L370.58 458.75 L372.2 460.37 L373.82 459.42 L375.44 459.78 L377.07 460.67 L378.69 459.23 L380.31 459.97 L381.93 460.5 L383.56 462.15 L385.18 459.69 L386.8 459 L388.42 458.7 L390.04 460.59 L391.67 460.88 L393.29 460.41 L394.91 460.11 L396.53 460.78 L398.16 459.83 L399.78 458.76 L401.4 460.28 L403.02 460.74 L404.64 459.6 L406.27 458.66 L407.89 458.35 L409.51 458.75 L411.13 458.94 L412.76 459.62 L414.38 458.81 L416 460.03" fill="none" stroke="#1a961a" stroke-width="1.0" stroke-linejoin="round"/>
<path d="M343 468.43 L344.62 467.02 L346.24 467.23 L347.87 469.74 L349.49 466.76 L351.11 466.91 L352.73 467.83 L354.36 466.31 L355.98 467.26 L357.6 468.78 L359.22 467.64 L360.84 468.42 L362.47 468.64 L364.09 468.57 L365.71 467.32 L367.33 466.57 L368.96 465.55 L370.58 466.24 L372.2 466.85 L373.82 465.26 L375.44 466.56 L377.07 466.37 L378.69 468.13 L380.31 466.96 L381.93 466.96 L383.56 468.51 L385.18 467.51 L386.8 465.66 L388.42 467.19 L390.04 469.14 L391.67 466.36 L393.29 467.73 L394.91 467.8 L396.53 467.67 L398.16 468.54 L399.78 466.98 L401.4 466.73 L403.02 467.68 L404.64 467.16 L406.27 468.41 L407.89 468.52 L409.51 468.43 L411.13 466.89 L412.76 466.92 L414.38 466.37 L416 466.97" fill="none" stroke="#1a961a" stroke-width="1.0" stroke-linejoin="round"/>
<path d="M494 461.09 L495.62 461.04 L497.24 461.08 L498.87 459.17 L500.49 459.11 L502.11 460.22 L503.73 460.79 L505.36 460.3 L506.98 458.82 L508.6 460.97 L510.22 460.55 L511.85 459.06 L513.47 459.46 L515.09 461.13 L516.71 459.64 L518.34 460.95 L519.96 458.15 L521.58 460.95 L523.2 458.98 L524.83 461.15 L526.45 459.51 L528.07 458.17 L529.69 461.12 L531.32 459.97 L532.94 459.73 L534.56 460.75 L536.18 459.25 L537.81 459.23 L539.43 459.27 L541.05 458.94 L542.67 459.52 L544.3 460.12 L545.92 459.69 L547.54 459.9 L549.16 460.01 L550.79 459.74 L552.41 458.61 L554.03 459.05 L555.65 460.49 L557.28 459.45 L558.9 460.04 L560.52 458.88 L562.14 459.25 L563.77 460.61 L565.39 460.06 L567.01 460.97 L568.63 460.19 L570.26 459.93 L571.88 459.78 L573.5 459.84" fill="none" stroke="#1a961a" stroke-width="1.0" stroke-linejoin="round"/>
<path d="M494 468.12 L495.63 468.75 L497.26 467.75 L498.88 469.19 L500.51 466.62 L502.14 466.49 L503.77 466.49 L505.4 468.34 L507.02 466.7 L508.65 468.35 L510.28 468.6 L511.91 466.87 L513.53 467.34 L515.16 468.87 L516.79 466.72 L518.42 467.64 L520.05 466.81 L521.67 468.64 L523.3 467.74 L524.93 466.35 L526.56 467.92 L528.19 466.47 L529.81 468.35 L531.44 466.57 L533.07 466.4 L534.7 466.53 L536.33 467.4 L537.95 468.43 L539.58 466.69 L541.21 467.78 L542.84 465.68 L544.47 468.09 L546.09 466.49 L547.72 467.95 L549.35 466.52 L550.98 466.47 L552.6 467.48 L554.23 467.74 L555.86 466.51 L557.49 467.67 L559.12 465.77 L560.74 466.43 L562.37 467.11 L564 468.27" fill="none" stroke="#1a961a" stroke-width="1.0" stroke-linejoin="round"/>
<path d="M564.2 326 L563.48 327.61 L563.03 329.23 L564.81 330.84 L563.39 332.45 L566.23 334.07 L565.03 335.68 L564.19 337.3 L563.92 338.91 L564.69 340.52 L563.79 342.14 L564.74 343.75 L563.95 345.36 L562.11 346.98 L563.08 348.59 L563.06 350.2 L563.12 351.82 L565.16 353.43 L563.63 355.05 L563.66 356.66 L563.31 358.27 L563.58 359.89 L565.43 361.5 L563.54 363.11 L563.7 364.73 L562.9 366.34 L564.13 367.95 L563.42 369.57 L562.91 371.18 L563.13 372.8 L562.06 374.41 L563.69 376.02 L564.42 377.64 L564.85 379.25 L564.76 380.86 L563.91 382.48 L566.47 384.09 L564.78 385.7 L563.01 387.32 L565.22 388.93 L564.81 390.55 L563.26 392.16 L564.21 393.77 L564.99 395.39 L564.42 397 L564.68 398.61 L562.94 400.23 L563.25 401.84 L563.17 403.45 L564.35 405.07 L564.53 406.68 L564.15 408.3 L564.97 409.91 L564.21 411.52 L564.95 413.14 L564.82 414.75 L563.09 416.36 L564.8 417.98 L564.82 419.59 L564.18 421.2 L564.15 422.82 L564.89 424.43 L564.87 426.05 L563.28 427.66 L564.83 429.27 L564.52 430.89 L563.06 432.5 L564.65 434.11 L564.66 435.73 L564.24 437.34 L564.04 438.95 L565.22 440.57 L565.44 442.18 L562.95 443.8 L565.03 445.41 L564.07 447.02 L563.45 448.64 L563.45 450.25 L563.27 451.86 L566.32 453.48 L565.03 455.09 L565.21 456.7 L563.5 458.32 L564.14 459.93 L562.91 461.55 L564.07 463.16 L563.27 464.77 L563.72 466.39 L562.9 468" fill="none" stroke="#1a961a" stroke-width="1.0" stroke-linejoin="round"/>
<path d="M574.79 326 L574.31 327.61 L574.24 329.23 L572.87 330.84 L574.5 332.46 L572.84 334.07 L572.15 335.69 L572.16 337.3 L572.64 338.92 L572.55 340.53 L573.23 342.14 L572.87 343.76 L574.2 345.37 L573.54 346.99 L574.35 348.6 L574.23 350.22 L573.8 351.83 L573.86 353.45 L572.2 355.06 L575.2 356.67 L573.13 358.29 L572.67 359.9 L574.44 361.52 L573.61 363.13 L573.35 364.75 L571.64 366.36 L572.44 367.98 L573.19 369.59 L574.26 371.2 L572.97 372.82 L571.76 374.43 L572.46 376.05 L572.52 377.66 L573.38 379.28 L573.85 380.89 L572.98 382.51 L572.88 384.12 L572.06 385.73 L575.39 387.35 L573.21 388.96 L574.14 390.58 L572.6 392.19 L572.94 393.81 L574.38 395.42 L574.95 397.04 L571.98 398.65 L574.23 400.27 L573.61 401.88 L572.92 403.49 L574.05 405.11 L574.43 406.72 L571.37 408.34 L573.26 409.95 L574.35 411.57 L573.58 413.18 L573.09 414.8 L572 416.41 L572.5 418.02 L573.58 419.64 L572.23 421.25 L573.55 422.87 L571.38 424.48 L573.26 426.1 L572.91 427.71 L573.67 429.33 L572.68 430.94 L574.39 432.55 L574.2 434.17 L572.51 435.78 L574.4 437.4 L572.3 439.01 L573.2 440.63 L572.99 442.24 L573.64 443.86 L571.92 445.47 L572.78 447.08 L573.67 448.7 L573.97 450.31 L573.21 451.93 L574.42 453.54 L574.03 455.16 L572.48 456.77 L572.67 458.39 L573.19 460" fill="none" stroke="#1a961a" stroke-width="1.0" stroke-linejoin="round"/>
<line x1="346.45" y1="463.6" x2="348.25" y2="463.6" stroke="#1a961a" stroke-width="1.1" />
<line x1="352.03" y1="463.6" x2="353.83" y2="463.6" stroke="#1a961a" stroke-width="1.1" />
<line x1="357.73" y1="463.6" x2="359.53" y2="463.6" stroke="#1a961a" stroke-width="1.1" />
<line x1="363.5" y1="463.6" x2="365.3" y2="463.6" stroke="#1a961a" stroke-width="1.1" />
<line x1="367.09" y1="463.6" x2="368.89" y2="463.6" stroke="#1a961a" stroke-width="1.1" />
<line x1="372.79" y1="463.6" x2="374.59" y2="463.6" stroke="#1a961a" stroke-width="1.1" />
<line x1="377.63" y1="463.6" x2="379.43" y2="463.6" stroke="#1a961a" stroke-width="1.1" />
<line x1="384.35" y1="463.6" x2="386.15" y2="463.6" stroke="#1a961a" stroke-width="1.1" />
<line x1="387.88" y1="463.6" x2="389.68" y2="463.6" stroke="#1a961a" stroke-width="1.1" />
<line x1="392.9" y1="463.6" x2="394.7" y2="463.6" stroke="#1a961a" stroke-width="1.1" />
<line x1="398.12" y1="463.6" x2="399.92" y2="463.6" stroke="#1a961a" stroke-width="1.1" />
<line x1="403.99" y1="463.6" x2="405.79" y2="463.6" stroke="#1a961a" stroke-width="1.1" />
<line x1="410.2" y1="463.6" x2="412" y2="463.6" stroke="#1a961a" stroke-width="1.1" />
<line x1="415.37" y1="463.6" x2="417.17" y2="463.6" stroke="#1a961a" stroke-width="1.1" />
<line x1="499.47" y1="463.6" x2="501.27" y2="463.6" stroke="#1a961a" stroke-width="1.1" />
<line x1="505.6" y1="463.6" x2="507.4" y2="463.6" stroke="#1a961a" stroke-width="1.1" />
<line x1="511.06" y1="463.6" x2="512.86" y2="463.6" stroke="#1a961a" stroke-width="1.1" />
<line x1="515.46" y1="463.6" x2="517.26" y2="463.6" stroke="#1a961a" stroke-width="1.1" />
<line x1="520.77" y1="463.6" x2="522.57" y2="463.6" stroke="#1a961a" stroke-width="1.1" />
<line x1="527.87" y1="463.6" x2="529.67" y2="463.6" stroke="#1a961a" stroke-width="1.1" />
<line x1="533.09" y1="463.6" x2="534.89" y2="463.6" stroke="#1a961a" stroke-width="1.1" />
<line x1="537.26" y1="463.6" x2="539.06" y2="463.6" stroke="#1a961a" stroke-width="1.1" />
<line x1="544.13" y1="463.6" x2="545.93" y2="463.6" stroke="#1a961a" stroke-width="1.1" />
<line x1="549.16" y1="463.6" x2="550.96" y2="463.6" stroke="#1a961a" stroke-width="1.1" />
<line x1="554.75" y1="463.6" x2="556.55" y2="463.6" stroke="#1a961a" stroke-width="1.1" />
<line x1="560.26" y1="463.6" x2="562.06" y2="463.6" stroke="#1a961a" stroke-width="1.1" />
<line x1="568.6" y1="330.34" x2="568.6" y2="332.14" stroke="#1a961a" stroke-width="1.1" />
<line x1="568.6" y1="336.21" x2="568.6" y2="338.01" stroke="#1a961a" stroke-width="1.1" />
<line x1="568.6" y1="342.96" x2="568.6" y2="344.76" stroke="#1a961a" stroke-width="1.1" />
<line x1="568.6" y1="349.3" x2="568.6" y2="351.1" stroke="#1a961a" stroke-width="1.1" />
<line x1="568.6" y1="356.71" x2="568.6" y2="358.51" stroke="#1a961a" stroke-width="1.1" />
<line x1="568.6" y1="361.25" x2="568.6" y2="363.05" stroke="#1a961a" stroke-width="1.1" />
<line x1="568.6" y1="369.13" x2="568.6" y2="370.93" stroke="#1a961a" stroke-width="1.1" />
<line x1="568.6" y1="373.81" x2="568.6" y2="375.61" stroke="#1a961a" stroke-width="1.1" />
<line x1="568.6" y1="380.31" x2="568.6" y2="382.11" stroke="#1a961a" stroke-width="1.1" />
<line x1="568.6" y1="387.44" x2="568.6" y2="389.24" stroke="#1a961a" stroke-width="1.1" />
<line x1="568.6" y1="393.64" x2="568.6" y2="395.44" stroke="#1a961a" stroke-width="1.1" />
<line x1="568.6" y1="399.06" x2="568.6" y2="400.86" stroke="#1a961a" stroke-width="1.1" />
<line x1="568.6" y1="404.5" x2="568.6" y2="406.3" stroke="#1a961a" stroke-width="1.1" />
<line x1="568.6" y1="411.55" x2="568.6" y2="413.35" stroke="#1a961a" stroke-width="1.1" />
<line x1="568.6" y1="417.55" x2="568.6" y2="419.35" stroke="#1a961a" stroke-width="1.1" />
<line x1="568.6" y1="424.84" x2="568.6" y2="426.64" stroke="#1a961a" stroke-width="1.1" />
<line x1="568.6" y1="429.59" x2="568.6" y2="431.39" stroke="#1a961a" stroke-width="1.1" />
<line x1="568.6" y1="436.13" x2="568.6" y2="437.93" stroke="#1a961a" stroke-width="1.1" />
<line x1="568.6" y1="443.39" x2="568.6" y2="445.19" stroke="#1a961a" stroke-width="1.1" />
<line x1="568.6" y1="447.86" x2="568.6" y2="449.66" stroke="#1a961a" stroke-width="1.1" />
<line x1="568.6" y1="454.82" x2="568.6" y2="456.62" stroke="#1a961a" stroke-width="1.1" />
<line x1="568.6" y1="461.82" x2="568.6" y2="463.62" stroke="#1a961a" stroke-width="1.1" />
<path d="M-3.06 0 Q0 -2.63 3.06 0 Q0 2.63 -3.06 0 Z" fill="none" stroke="#1a961a" stroke-width="0.85" transform="translate(369.76 466.29) rotate(-34.1)"/>
<path d="M-2.7 0 Q0 -2.67 2.7 0 Q0 2.67 -2.7 0 Z" fill="none" stroke="#1a961a" stroke-width="0.85" transform="translate(370.01 469.68) rotate(14.72)"/>
<path d="M-2.7 0 Q0 -2.5 2.7 0 Q0 2.5 -2.7 0 Z" fill="none" stroke="#1a961a" stroke-width="0.85" transform="translate(367.85 472.23) rotate(65.5)"/>
<path d="M-2.71 0 Q0 -2 2.71 0 Q0 2 -2.71 0 Z" fill="none" stroke="#1a961a" stroke-width="0.85" transform="translate(364.87 472.34) rotate(110.49)"/>
<path d="M-2.68 0 Q0 -2.33 2.68 0 Q0 2.33 -2.68 0 Z" fill="none" stroke="#1a961a" stroke-width="0.85" transform="translate(361.77 475.73) rotate(24.45)"/>
<path d="M-3.22 0 Q0 -2.27 3.22 0 Q0 2.27 -3.22 0 Z" fill="none" stroke="#1a961a" stroke-width="0.85" transform="translate(358.87 478.5) rotate(81.78)"/>
<path d="M-2.82 0 Q0 -2.35 2.82 0 Q0 2.35 -2.82 0 Z" fill="none" stroke="#1a961a" stroke-width="0.85" transform="translate(356.06 477.51) rotate(122.72)"/>
<path d="M-3.08 0 Q0 -2.43 3.08 0 Q0 2.43 -3.08 0 Z" fill="none" stroke="#1a961a" stroke-width="0.85" transform="translate(354.19 483.48) rotate(53.58)"/>
<path d="M-2.74 0 Q0 -2.25 2.74 0 Q0 2.25 -2.74 0 Z" fill="none" stroke="#1a961a" stroke-width="0.85" transform="translate(351.2 483.95) rotate(96.63)"/>
<path d="M-2.56 0 Q0 -2.14 2.56 0 Q0 2.14 -2.56 0 Z" fill="none" stroke="#1a961a" stroke-width="0.85" transform="translate(348.42 481.96) rotate(149.17)"/>
<path d="M-2.74 0 Q0 -2.69 2.74 0 Q0 2.69 -2.74 0 Z" fill="none" stroke="#1a961a" stroke-width="0.85" transform="translate(349.23 475.43) rotate(20.24)"/>
<path d="M-3.24 0 Q0 -2.19 3.24 0 Q0 2.19 -3.24 0 Z" fill="none" stroke="#1a961a" stroke-width="0.85" transform="translate(346.93 478.28) rotate(71.55)"/>
<path d="M-2.57 0 Q0 -2.35 2.57 0 Q0 2.35 -2.57 0 Z" fill="none" stroke="#1a961a" stroke-width="0.85" transform="translate(344.14 477.58) rotate(111.56)"/>
<path d="M-2.84 0 Q0 -2.16 2.84 0 Q0 2.16 -2.84 0 Z" fill="none" stroke="#1a961a" stroke-width="0.85" transform="translate(341.61 475.06) rotate(165.81)"/>
<path d="M-3 0 Q0 -2.08 3 0 Q0 2.08 -3 0 Z" fill="none" stroke="#1a961a" stroke-width="0.85" transform="translate(335.11 477.98) rotate(110.2)"/>
<path d="M-2.72 0 Q0 -2.4 2.72 0 Q0 2.4 -2.72 0 Z" fill="none" stroke="#1a961a" stroke-width="0.85" transform="translate(332.92 475.5) rotate(158.14)"/>
<path d="M-3.05 0 Q0 -2.14 3.05 0 Q0 2.14 -3.05 0 Z" fill="none" stroke="#1a961a" stroke-width="0.85" transform="translate(332.6 472.48) rotate(201.46)"/>
<path d="M-2.74 0 Q0 -2.28 2.74 0 Q0 2.28 -2.74 0 Z" fill="none" stroke="#1a961a" stroke-width="0.85" transform="translate(336.85 468.53) rotate(118.97)"/>
<path d="M-2.88 0 Q0 -2.16 2.88 0 Q0 2.16 -2.88 0 Z" fill="none" stroke="#1a961a" stroke-width="0.85" transform="translate(334.73 465.71) rotate(171.11)"/>
<path d="M-2.99 0 Q0 -2.69 2.99 0 Q0 2.69 -2.99 0 Z" fill="none" stroke="#1a961a" stroke-width="0.85" transform="translate(335.42 462.54) rotate(217.27)"/>
<path d="M-2.86 0 Q0 -2.57 2.86 0 Q0 2.57 -2.86 0 Z" fill="none" stroke="#1a961a" stroke-width="0.85" transform="translate(337.93 461.11) rotate(258.21)"/>
<path d="M-2.64 0 Q0 -2.68 2.64 0 Q0 2.68 -2.64 0 Z" fill="none" stroke="#1a961a" stroke-width="0.85" transform="translate(332.19 458.59) rotate(119.6)"/>
<path d="M-3.2 0 Q0 -2.26 3.2 0 Q0 2.26 -3.2 0 Z" fill="none" stroke="#1a961a" stroke-width="0.85" transform="translate(329.73 455.84) rotate(172.24)"/>
<path d="M-2.84 0 Q0 -2.18 2.84 0 Q0 2.18 -2.84 0 Z" fill="none" stroke="#1a961a" stroke-width="0.85" transform="translate(331.14 452.49) rotate(223.07)"/>
<path d="M-3.21 0 Q0 -2.07 3.21 0 Q0 2.07 -3.21 0 Z" fill="none" stroke="#1a961a" stroke-width="0.85" transform="translate(334.1 450.84) rotate(270.19)"/>
<path d="M-2.65 0 Q0 -2.18 2.65 0 Q0 2.18 -2.65 0 Z" fill="none" stroke="#1a961a" stroke-width="0.85" transform="translate(339.68 454.75) rotate(151.62)"/>
<path d="M-2.99 0 Q0 -2.14 2.99 0 Q0 2.14 -2.99 0 Z" fill="none" stroke="#1a961a" stroke-width="0.85" transform="translate(339.25 451.21) rotate(204.2)"/>
<path d="M-2.75 0 Q0 -2.47 2.75 0 Q0 2.47 -2.75 0 Z" fill="none" stroke="#1a961a" stroke-width="0.85" transform="translate(341.49 449.31) rotate(246.32)"/>
<path d="M-2.73 0 Q0 -2.14 2.73 0 Q0 2.14 -2.73 0 Z" fill="none" stroke="#1a961a" stroke-width="0.85" transform="translate(344.8 449.39) rotate(296.06)"/>
<path d="M-2.91 0 Q0 -2.45 2.91 0 Q0 2.45 -2.91 0 Z" fill="none" stroke="#1a961a" stroke-width="0.85" transform="translate(345.1 446.21) rotate(172.38)"/>
<path d="M-2.62 0 Q0 -2.49 2.62 0 Q0 2.49 -2.62 0 Z" fill="none" stroke="#1a961a" stroke-width="0.85" transform="translate(346.14 443.34) rotate(217.34)"/>
<path d="M-2.71 0 Q0 -2.22 2.71 0 Q0 2.22 -2.71 0 Z" fill="none" stroke="#1a961a" stroke-width="0.85" transform="translate(349.08 441.75) rotate(268.53)"/>
<path d="M-2.73 0 Q0 -2.4 2.73 0 Q0 2.4 -2.73 0 Z" fill="none" stroke="#1a961a" stroke-width="0.85" transform="translate(352.28 443.24) rotate(321.96)"/>
<path d="M-2.65 0 Q0 -2.51 2.65 0 Q0 2.51 -2.65 0 Z" fill="none" stroke="#1a961a" stroke-width="0.85" transform="translate(355.01 447.91) rotate(267.33)"/>
<path d="M-2.5 0 Q0 -2.63 2.5 0 Q0 2.63 -2.5 0 Z" fill="none" stroke="#1a961a" stroke-width="0.85" transform="translate(357.75 449.08) rotate(313.73)"/>
<path d="M-3.12 0 Q0 -2.28 3.12 0 Q0 2.28 -3.12 0 Z" fill="none" stroke="#1a961a" stroke-width="0.85" transform="translate(359.5 452.05) rotate(363.93)"/>
<path d="M-2.98 0 Q0 -2.64 2.98 0 Q0 2.64 -2.98 0 Z" fill="none" stroke="#1a961a" stroke-width="0.85" transform="translate(362.38 450.26) rotate(230.32)"/>
<path d="M-2.97 0 Q0 -2.26 2.97 0 Q0 2.26 -2.97 0 Z" fill="none" stroke="#1a961a" stroke-width="0.85" transform="translate(365.32 449.32) rotate(273.69)"/>
<path d="M-2.61 0 Q0 -2.2 2.61 0 Q0 2.2 -2.61 0 Z" fill="none" stroke="#1a961a" stroke-width="0.85" transform="translate(368.21 451.34) rotate(325.85)"/>
<path d="M-3.19 0 Q0 -2.08 3.19 0 Q0 2.08 -3.19 0 Z" fill="none" stroke="#1a961a" stroke-width="0.85" transform="translate(369.32 454.54) rotate(374.02)"/>
<path d="M-3.21 0 Q0 -2.68 3.21 0 Q0 2.68 -3.21 0 Z" fill="none" stroke="#1a961a" stroke-width="0.85" transform="translate(364.83 457.35) rotate(286.06)"/>
<path d="M-2.54 0 Q0 -2.65 2.54 0 Q0 2.65 -2.54 0 Z" fill="none" stroke="#1a961a" stroke-width="0.85" transform="translate(367.07 460.16) rotate(337.62)"/>
<path d="M-3.18 0 Q0 -2.43 3.18 0 Q0 2.43 -3.18 0 Z" fill="none" stroke="#1a961a" stroke-width="0.85" transform="translate(367.59 463.41) rotate(384.67)"/>
<path d="M-3.12 0 Q0 -2.13 3.12 0 Q0 2.13 -3.12 0 Z" fill="none" stroke="#1a961a" stroke-width="0.85" transform="translate(441.13 468.53) rotate(-51.29)"/>
<path d="M-2.8 0 Q0 -2.36 2.8 0 Q0 2.36 -2.8 0 Z" fill="none" stroke="#1a961a" stroke-width="0.85" transform="translate(442.37 471.24) rotate(-9.58)"/>
<path d="M-2.59 0 Q0 -2.17 2.59 0 Q0 2.17 -2.59 0 Z" fill="none" stroke="#1a961a" stroke-width="0.85" transform="translate(441.33 474.34) rotate(40.08)"/>
<path d="M-3.17 0 Q0 -2.03 3.17 0 Q0 2.03 -3.17 0 Z" fill="none" stroke="#1a961a" stroke-width="0.85" transform="translate(438.31 476.27) rotate(91.49)"/>
<path d="M-2.95 0 Q0 -2.39 2.95 0 Q0 2.39 -2.95 0 Z" fill="none" stroke="#1a961a" stroke-width="0.85" transform="translate(433.59 475.1) rotate(-3.68)"/>
<path d="M-2.73 0 Q0 -2.29 2.73 0 Q0 2.29 -2.73 0 Z" fill="none" stroke="#1a961a" stroke-width="0.85" transform="translate(432.01 478.35) rotate(49.42)"/>
<path d="M-2.82 0 Q0 -2.46 2.82 0 Q0 2.46 -2.82 0 Z" fill="none" stroke="#1a961a" stroke-width="0.85" transform="translate(428.96 479.36) rotate(96.97)"/>
<path d="M-2.83 0 Q0 -2.02 2.83 0 Q0 2.02 -2.83 0 Z" fill="none" stroke="#1a961a" stroke-width="0.85" transform="translate(426.21 477.76) rotate(143.61)"/>
<path d="M-2.84 0 Q0 -2.13 2.84 0 Q0 2.13 -2.84 0 Z" fill="none" stroke="#1a961a" stroke-width="0.85" transform="translate(427.35 483.93) rotate(29.67)"/>
<path d="M-2.58 0 Q0 -2.09 2.58 0 Q0 2.09 -2.58 0 Z" fill="none" stroke="#1a961a" stroke-width="0.85" transform="translate(424.84 485.58) rotate(74.6)"/>
<path d="M-2.57 0 Q0 -2.31 2.57 0 Q0 2.31 -2.57 0 Z" fill="none" stroke="#1a961a" stroke-width="0.85" transform="translate(421.83 485.12) rotate(122.17)"/>
<path d="M-2.53 0 Q0 -2.45 2.53 0 Q0 2.45 -2.53 0 Z" fill="none" stroke="#1a961a" stroke-width="0.85" transform="translate(420.15 482.52) rotate(170.97)"/>
<path d="M-2.88 0 Q0 -2.26 2.88 0 Q0 2.26 -2.88 0 Z" fill="none" stroke="#1a961a" stroke-width="0.85" transform="translate(420.3 480.16) rotate(59.51)"/>
<path d="M-2.6 0 Q0 -2.6 2.6 0 Q0 2.6 -2.6 0 Z" fill="none" stroke="#1a961a" stroke-width="0.85" transform="translate(416.54 480.05) rotate(116.48)"/>
<path d="M-3.05 0 Q0 -2.57 3.05 0 Q0 2.57 -3.05 0 Z" fill="none" stroke="#1a961a" stroke-width="0.85" transform="translate(414.13 477.75) rotate(164.93)"/>
<path d="M-2.62 0 Q0 -2.55 2.62 0 Q0 2.55 -2.62 0 Z" fill="none" stroke="#1a961a" stroke-width="0.85" transform="translate(408.3 479.98) rotate(97.28)"/>
<path d="M-2.55 0 Q0 -2.25 2.55 0 Q0 2.25 -2.55 0 Z" fill="none" stroke="#1a961a" stroke-width="0.85" transform="translate(405.7 478.31) rotate(145.42)"/>
<path d="M-2.62 0 Q0 -2.63 2.62 0 Q0 2.63 -2.62 0 Z" fill="none" stroke="#1a961a" stroke-width="0.85" transform="translate(405.05 475.41) rotate(191.68)"/>
<path d="M-3.11 0 Q0 -2.1 3.11 0 Q0 2.1 -3.11 0 Z" fill="none" stroke="#1a961a" stroke-width="0.85" transform="translate(406.3 472.66) rotate(234.87)"/>
<path d="M-2.74 0 Q0 -2.03 2.74 0 Q0 2.03 -2.74 0 Z" fill="none" stroke="#1a961a" stroke-width="0.85" transform="translate(410.25 470.57) rotate(90.96)"/>
<path d="M-2.62 0 Q0 -2.66 2.62 0 Q0 2.66 -2.62 0 Z" fill="none" stroke="#1a961a" stroke-width="0.85" transform="translate(407.58 469.3) rotate(135.72)"/>
<path d="M-3.17 0 Q0 -2.12 3.17 0 Q0 2.12 -3.17 0 Z" fill="none" stroke="#1a961a" stroke-width="0.85" transform="translate(405.99 465.97) rotate(188.69)"/>
<path d="M-2.59 0 Q0 -2.37 2.59 0 Q0 2.37 -2.59 0 Z" fill="none" stroke="#1a961a" stroke-width="0.85" transform="translate(408.29 463.43) rotate(237.75)"/>
<path d="M-3.16 0 Q0 -2.07 3.16 0 Q0 2.07 -3.16 0 Z" fill="none" stroke="#1a961a" stroke-width="0.85" transform="translate(403.87 459.83) rotate(161.39)"/>
<path d="M-2.97 0 Q0 -2.28 2.97 0 Q0 2.28 -2.97 0 Z" fill="none" stroke="#1a961a" stroke-width="0.85" transform="translate(404.52 456.13) rotate(213.52)"/>
<path d="M-2.7 0 Q0 -2.69 2.7 0 Q0 2.69 -2.7 0 Z" fill="none" stroke="#1a961a" stroke-width="0.85" transform="translate(407.29 454.6) rotate(259.56)"/>
<path d="M-3.06 0 Q0 -2.03 3.06 0 Q0 2.03 -3.06 0 Z" fill="none" stroke="#1a961a" stroke-width="0.85" transform="translate(411.96 456.18) rotate(181.24)"/>
<path d="M-2.69 0 Q0 -2.45 2.69 0 Q0 2.45 -2.69 0 Z" fill="none" stroke="#1a961a" stroke-width="0.85" transform="translate(414.03 453.06) rotate(235.67)"/>
<path d="M-2.94 0 Q0 -2.46 2.94 0 Q0 2.46 -2.94 0 Z" fill="none" stroke="#1a961a" stroke-width="0.85" transform="translate(417.31 452.28) rotate(285.31)"/>
<path d="M-2.82 0 Q0 -2.36 2.82 0 Q0 2.36 -2.82 0 Z" fill="none" stroke="#1a961a" stroke-width="0.85" transform="translate(416.77 450.46) rotate(174.87)"/>
<path d="M-2.6 0 Q0 -2.16 2.6 0 Q0 2.16 -2.6 0 Z" fill="none" stroke="#1a961a" stroke-width="0.85" transform="translate(418.12 447.39) rotate(225.66)"/>
<path d="M-2.52 0 Q0 -2 2.52 0 Q0 2 -2.52 0 Z" fill="none" stroke="#1a961a" stroke-width="0.85" transform="translate(420.85 446.39) rotate(271.24)"/>
<path d="M-2.58 0 Q0 -2.25 2.58 0 Q0 2.25 -2.58 0 Z" fill="none" stroke="#1a961a" stroke-width="0.85" transform="translate(423.51 447.49) rotate(316.26)"/>
<path d="M-2.86 0 Q0 -2.09 2.86 0 Q0 2.09 -2.86 0 Z" fill="none" stroke="#1a961a" stroke-width="0.85" transform="translate(424.52 451.57) rotate(230.98)"/>
<path d="M-2.68 0 Q0 -2.1 2.68 0 Q0 2.1 -2.68 0 Z" fill="none" stroke="#1a961a" stroke-width="0.85" transform="translate(427.88 450.93) rotate(282.11)"/>
<path d="M-2.98 0 Q0 -2.61 2.98 0 Q0 2.61 -2.98 0 Z" fill="none" stroke="#1a961a" stroke-width="0.85" transform="translate(430.35 452.13) rotate(321.7)"/>
<path d="M-2.92 0 Q0 -2.25 2.92 0 Q0 2.25 -2.92 0 Z" fill="none" stroke="#1a961a" stroke-width="0.85" transform="translate(433.74 453.37) rotate(232.02)"/>
<path d="M-2.83 0 Q0 -2.66 2.83 0 Q0 2.66 -2.83 0 Z" fill="none" stroke="#1a961a" stroke-width="0.85" transform="translate(436.97 452.65) rotate(280.02)"/>
<path d="M-2.69 0 Q0 -2.63 2.69 0 Q0 2.63 -2.69 0 Z" fill="none" stroke="#1a961a" stroke-width="0.85" transform="translate(439.6 454.61) rotate(328.9)"/>
<path d="M-2.9 0 Q0 -2.28 2.9 0 Q0 2.28 -2.9 0 Z" fill="none" stroke="#1a961a" stroke-width="0.85" transform="translate(440.31 457.33) rotate(370.01)"/>
<path d="M-3.21 0 Q0 -2.1 3.21 0 Q0 2.1 -3.21 0 Z" fill="none" stroke="#1a961a" stroke-width="0.85" transform="translate(433.95 459.81) rotate(280.76)"/>
<path d="M-2.96 0 Q0 -2.35 2.96 0 Q0 2.35 -2.96 0 Z" fill="none" stroke="#1a961a" stroke-width="0.85" transform="translate(436.54 461.77) rotate(325.25)"/>
<path d="M-3.11 0 Q0 -2.12 3.11 0 Q0 2.12 -3.11 0 Z" fill="none" stroke="#1a961a" stroke-width="0.85" transform="translate(437.24 465.45) rotate(377.67)"/>
<path d="M-2.5 0 Q0 -2.59 2.5 0 Q0 2.59 -2.5 0 Z" fill="none" stroke="#1a961a" stroke-width="0.85" transform="translate(526.03 464.31) rotate(-24.01)"/>
<path d="M-2.85 0 Q0 -2.52 2.85 0 Q0 2.52 -2.85 0 Z" fill="none" stroke="#1a961a" stroke-width="0.85" transform="translate(526.34 467.48) rotate(24.28)"/>
<path d="M-2.67 0 Q0 -2.07 2.67 0 Q0 2.07 -2.67 0 Z" fill="none" stroke="#1a961a" stroke-width="0.85" transform="translate(524.01 469.44) rotate(69.36)"/>
<path d="M-3.13 0 Q0 -2.5 3.13 0 Q0 2.5 -3.13 0 Z" fill="none" stroke="#1a961a" stroke-width="0.85" transform="translate(519.49 469.08) rotate(-20.43)"/>
<path d="M-2.92 0 Q0 -2.31 2.92 0 Q0 2.31 -2.92 0 Z" fill="none" stroke="#1a961a" stroke-width="0.85" transform="translate(519.21 472.22) rotate(23.28)"/>
<path d="M-2.89 0 Q0 -2.19 2.89 0 Q0 2.19 -2.89 0 Z" fill="none" stroke="#1a961a" stroke-width="0.85" transform="translate(516.38 474.57) rotate(76.51)"/>
<path d="M-3.22 0 Q0 -2.15 3.22 0 Q0 2.15 -3.22 0 Z" fill="none" stroke="#1a961a" stroke-width="0.85" transform="translate(513.02 474.3) rotate(123.04)"/>
<path d="M-3.21 0 Q0 -2.52 3.21 0 Q0 2.52 -3.21 0 Z" fill="none" stroke="#1a961a" stroke-width="0.85" transform="translate(515.56 478.55) rotate(-10.43)"/>
<path d="M-3.16 0 Q0 -2.23 3.16 0 Q0 2.23 -3.16 0 Z" fill="none" stroke="#1a961a" stroke-width="0.85" transform="translate(514.86 481.75) rotate(33.4)"/>
<path d="M-3.18 0 Q0 -2.44 3.18 0 Q0 2.44 -3.18 0 Z" fill="none" stroke="#1a961a" stroke-width="0.85" transform="translate(511.94 483.67) rotate(80.52)"/>
<path d="M-3 0 Q0 -2.69 3 0 Q0 2.69 -3 0 Z" fill="none" stroke="#1a961a" stroke-width="0.85" transform="translate(508.35 482.42) rotate(133.06)"/>
<path d="M-3.04 0 Q0 -2.4 3.04 0 Q0 2.4 -3.04 0 Z" fill="none" stroke="#1a961a" stroke-width="0.85" transform="translate(505.7 480.56) rotate(68.29)"/>
<path d="M-2.66 0 Q0 -2.44 2.66 0 Q0 2.44 -2.66 0 Z" fill="none" stroke="#1a961a" stroke-width="0.85" transform="translate(502.5 480.11) rotate(114.99)"/>
<path d="M-3.18 0 Q0 -2.1 3.18 0 Q0 2.1 -3.18 0 Z" fill="none" stroke="#1a961a" stroke-width="0.85" transform="translate(499.99 478.07) rotate(160.69)"/>
<path d="M-2.52 0 Q0 -2.03 2.52 0 Q0 2.03 -2.52 0 Z" fill="none" stroke="#1a961a" stroke-width="0.85" transform="translate(498 480.61) rotate(66.16)"/>
<path d="M-2.98 0 Q0 -2.49 2.98 0 Q0 2.49 -2.98 0 Z" fill="none" stroke="#1a961a" stroke-width="0.85" transform="translate(494.43 480.84) rotate(119.67)"/>
<path d="M-2.55 0 Q0 -2.41 2.55 0 Q0 2.41 -2.55 0 Z" fill="none" stroke="#1a961a" stroke-width="0.85" transform="translate(492.83 477.98) rotate(168.11)"/>
<path d="M-3.15 0 Q0 -2.64 3.15 0 Q0 2.64 -3.15 0 Z" fill="none" stroke="#1a961a" stroke-width="0.85" transform="translate(491.48 472.03) rotate(125.41)"/>
<path d="M-2.58 0 Q0 -2.14 2.58 0 Q0 2.14 -2.58 0 Z" fill="none" stroke="#1a961a" stroke-width="0.85" transform="translate(490.23 468.34) rotate(182.2)"/>
<path d="M-2.53 0 Q0 -2.59 2.53 0 Q0 2.59 -2.53 0 Z" fill="none" stroke="#1a961a" stroke-width="0.85" transform="translate(491.23 465.99) rotate(221.87)"/>
<path d="M-2.57 0 Q0 -2.07 2.57 0 Q0 2.07 -2.57 0 Z" fill="none" stroke="#1a961a" stroke-width="0.85" transform="translate(485.6 461.96) rotate(148.23)"/>
<path d="M-2.65 0 Q0 -2.22 2.65 0 Q0 2.22 -2.65 0 Z" fill="none" stroke="#1a961a" stroke-width="0.85" transform="translate(485.21 458.6) rotate(200.93)"/>
<path d="M-2.52 0 Q0 -2.18 2.52 0 Q0 2.18 -2.52 0 Z" fill="none" stroke="#1a961a" stroke-width="0.85" transform="translate(487.27 456.59) rotate(245.59)"/>
<path d="M-2.88 0 Q0 -2.6 2.88 0 Q0 2.6 -2.88 0 Z" fill="none" stroke="#1a961a" stroke-width="0.85" transform="translate(492.77 458.27) rotate(141.22)"/>
<path d="M-2.52 0 Q0 -2.29 2.52 0 Q0 2.29 -2.52 0 Z" fill="none" stroke="#1a961a" stroke-width="0.85" transform="translate(492.24 455.35) rotate(185.77)"/>
<path d="M-3.08 0 Q0 -2.24 3.08 0 Q0 2.24 -3.08 0 Z" fill="none" stroke="#1a961a" stroke-width="0.85" transform="translate(493.31 452.35) rotate(231.95)"/>
<path d="M-2.9 0 Q0 -2.15 2.9 0 Q0 2.15 -2.9 0 Z" fill="none" stroke="#1a961a" stroke-width="0.85" transform="translate(496.84 451.72) rotate(282.63)"/>
<path d="M-2.65 0 Q0 -2.53 2.65 0 Q0 2.53 -2.65 0 Z" fill="none" stroke="#1a961a" stroke-width="0.85" transform="translate(497.25 447.54) rotate(182.71)"/>
<path d="M-2.5 0 Q0 -2.34 2.5 0 Q0 2.34 -2.5 0 Z" fill="none" stroke="#1a961a" stroke-width="0.85" transform="translate(499.27 444.5) rotate(240.48)"/>
<path d="M-3.1 0 Q0 -2.13 3.1 0 Q0 2.13 -3.1 0 Z" fill="none" stroke="#1a961a" stroke-width="0.85" transform="translate(502.11 443.54) rotate(283.61)"/>
<path d="M-2.71 0 Q0 -2.15 2.71 0 Q0 2.15 -2.71 0 Z" fill="none" stroke="#1a961a" stroke-width="0.85" transform="translate(505.33 448.86) rotate(223.71)"/>
<path d="M-2.87 0 Q0 -2.08 2.87 0 Q0 2.08 -2.87 0 Z" fill="none" stroke="#1a961a" stroke-width="0.85" transform="translate(508.11 447.49) rotate(269.26)"/>
<path d="M-2.56 0 Q0 -2.55 2.56 0 Q0 2.55 -2.56 0 Z" fill="none" stroke="#1a961a" stroke-width="0.85" transform="translate(510.89 448.98) rotate(316.63)"/>
<path d="M-2.8 0 Q0 -2.62 2.8 0 Q0 2.62 -2.8 0 Z" fill="none" stroke="#1a961a" stroke-width="0.85" transform="translate(516.97 446.08) rotate(254.65)"/>
<path d="M-3.17 0 Q0 -2.02 3.17 0 Q0 2.02 -3.17 0 Z" fill="none" stroke="#1a961a" stroke-width="0.85" transform="translate(520.17 446.13) rotate(299.5)"/>
<path d="M-2.7 0 Q0 -2.63 2.7 0 Q0 2.63 -2.7 0 Z" fill="none" stroke="#1a961a" stroke-width="0.85" transform="translate(521.85 449.17) rotate(348.7)"/>
<path d="M-2.9 0 Q0 -2.53 2.9 0 Q0 2.53 -2.9 0 Z" fill="none" stroke="#1a961a" stroke-width="0.85" transform="translate(518.21 455.2) rotate(277.58)"/>
<path d="M-2.98 0 Q0 -2.24 2.98 0 Q0 2.24 -2.98 0 Z" fill="none" stroke="#1a961a" stroke-width="0.85" transform="translate(521.23 457.08) rotate(328.5)"/>
<path d="M-2.62 0 Q0 -2.59 2.62 0 Q0 2.59 -2.62 0 Z" fill="none" stroke="#1a961a" stroke-width="0.85" transform="translate(521.4 460.07) rotate(372.24)"/>
<path d="M-2.59 0 Q0 -2.32 2.59 0 Q0 2.32 -2.59 0 Z" fill="none" stroke="#1a961a" stroke-width="0.85" transform="translate(590.72 468.44) rotate(-35.74)"/>
<path d="M-2.68 0 Q0 -2.13 2.68 0 Q0 2.13 -2.68 0 Z" fill="none" stroke="#1a961a" stroke-width="0.85" transform="translate(591.38 471.68) rotate(15.32)"/>
<path d="M-3.03 0 Q0 -2.59 3.03 0 Q0 2.59 -3.03 0 Z" fill="none" stroke="#1a961a" stroke-width="0.85" transform="translate(589.91 474.22) rotate(57.49)"/>
<path d="M-2.62 0 Q0 -2.17 2.62 0 Q0 2.17 -2.62 0 Z" fill="none" stroke="#1a961a" stroke-width="0.85" transform="translate(586.71 474.36) rotate(104.02)"/>
<path d="M-3.23 0 Q0 -2.51 3.23 0 Q0 2.51 -3.23 0 Z" fill="none" stroke="#1a961a" stroke-width="0.85" transform="translate(583.94 471.24) rotate(-35.23)"/>
<path d="M-3.22 0 Q0 -2.07 3.22 0 Q0 2.07 -3.22 0 Z" fill="none" stroke="#1a961a" stroke-width="0.85" transform="translate(584.64 474.7) rotate(11.9)"/>
<path d="M-3.24 0 Q0 -2.56 3.24 0 Q0 2.56 -3.24 0 Z" fill="none" stroke="#1a961a" stroke-width="0.85" transform="translate(582.35 477.74) rotate(62.72)"/>
<path d="M-2.83 0 Q0 -2.14 2.83 0 Q0 2.14 -2.83 0 Z" fill="none" stroke="#1a961a" stroke-width="0.85" transform="translate(578.66 477.46) rotate(114.21)"/>
<path d="M-2.8 0 Q0 -2.55 2.8 0 Q0 2.55 -2.8 0 Z" fill="none" stroke="#1a961a" stroke-width="0.85" transform="translate(578.62 480.82) rotate(-1.28)"/>
<path d="M-2.88 0 Q0 -2.44 2.88 0 Q0 2.44 -2.88 0 Z" fill="none" stroke="#1a961a" stroke-width="0.85" transform="translate(577.06 484.17) rotate(53.32)"/>
<path d="M-2.61 0 Q0 -2.42 2.61 0 Q0 2.42 -2.61 0 Z" fill="none" stroke="#1a961a" stroke-width="0.85" transform="translate(574.03 484.67) rotate(99.02)"/>
<path d="M-3.06 0 Q0 -2.64 3.06 0 Q0 2.64 -3.06 0 Z" fill="none" stroke="#1a961a" stroke-width="0.85" transform="translate(571.08 483.26) rotate(146.43)"/>
<path d="M-3.04 0 Q0 -2.62 3.04 0 Q0 2.62 -3.04 0 Z" fill="none" stroke="#1a961a" stroke-width="0.85" transform="translate(570.27 479.8) rotate(54.65)"/>
<path d="M-3.03 0 Q0 -2.6 3.03 0 Q0 2.6 -3.03 0 Z" fill="none" stroke="#1a961a" stroke-width="0.85" transform="translate(566.51 480.35) rotate(108.1)"/>
<path d="M-2.98 0 Q0 -2.32 2.98 0 Q0 2.32 -2.98 0 Z" fill="none" stroke="#1a961a" stroke-width="0.85" transform="translate(564.02 478.09) rotate(155.16)"/>
<path d="M-3.03 0 Q0 -2.44 3.03 0 Q0 2.44 -3.03 0 Z" fill="none" stroke="#1a961a" stroke-width="0.85" transform="translate(560.51 480.04) rotate(65.17)"/>
<path d="M-2.82 0 Q0 -2.32 2.82 0 Q0 2.32 -2.82 0 Z" fill="none" stroke="#1a961a" stroke-width="0.85" transform="translate(557.5 480.02) rotate(107.85)"/>
<path d="M-2.81 0 Q0 -2.47 2.81 0 Q0 2.47 -2.81 0 Z" fill="none" stroke="#1a961a" stroke-width="0.85" transform="translate(554.97 477.6) rotate(159.56)"/>
<path d="M-2.64 0 Q0 -2.46 2.64 0 Q0 2.46 -2.64 0 Z" fill="none" stroke="#1a961a" stroke-width="0.85" transform="translate(555.43 474.24) rotate(210.65)"/>
<path d="M-2.91 0 Q0 -2.11 2.91 0 Q0 2.11 -2.91 0 Z" fill="none" stroke="#1a961a" stroke-width="0.85" transform="translate(557.84 469.68) rotate(119.2)"/>
<path d="M-3.21 0 Q0 -2.36 3.21 0 Q0 2.36 -3.21 0 Z" fill="none" stroke="#1a961a" stroke-width="0.85" transform="translate(555.45 466.5) rotate(174.64)"/>
<path d="M-2.93 0 Q0 -2.38 2.93 0 Q0 2.38 -2.93 0 Z" fill="none" stroke="#1a961a" stroke-width="0.85" transform="translate(556.49 463.67) rotate(215.83)"/>
<path d="M-2.88 0 Q0 -2.45 2.88 0 Q0 2.45 -2.88 0 Z" fill="none" stroke="#1a961a" stroke-width="0.85" transform="translate(559.84 462.01) rotate(269.99)"/>
<path d="M-3.01 0 Q0 -2.27 3.01 0 Q0 2.27 -3.01 0 Z" fill="none" stroke="#1a961a" stroke-width="0.85" transform="translate(552.14 459.79) rotate(149.99)"/>
<path d="M-2.59 0 Q0 -2.69 2.59 0 Q0 2.69 -2.59 0 Z" fill="none" stroke="#1a961a" stroke-width="0.85" transform="translate(552.31 456.17) rotate(203.52)"/>
<path d="M-2.54 0 Q0 -2.19 2.54 0 Q0 2.19 -2.54 0 Z" fill="none" stroke="#1a961a" stroke-width="0.85" transform="translate(554.36 454.23) rotate(247.45)"/>
<path d="M-2.51 0 Q0 -2.29 2.51 0 Q0 2.29 -2.51 0 Z" fill="none" stroke="#1a961a" stroke-width="0.85" transform="translate(557.41 454.35) rotate(295.89)"/>
<path d="M-3.06 0 Q0 -2.66 3.06 0 Q0 2.66 -3.06 0 Z" fill="none" stroke="#1a961a" stroke-width="0.85" transform="translate(560.19 457.21) rotate(142.73)"/>
<path d="M-2.66 0 Q0 -2.56 2.66 0 Q0 2.56 -2.66 0 Z" fill="none" stroke="#1a961a" stroke-width="0.85" transform="translate(559.82 453.71) rotate(193.76)"/>
<path d="M-2.66 0 Q0 -2.09 2.66 0 Q0 2.09 -2.66 0 Z" fill="none" stroke="#1a961a" stroke-width="0.85" transform="translate(561.67 451.28) rotate(240.4)"/>
<path d="M-3.11 0 Q0 -2.44 3.11 0 Q0 2.44 -3.11 0 Z" fill="none" stroke="#1a961a" stroke-width="0.85" transform="translate(565.21 450.65) rotate(292.25)"/>
<path d="M-2.98 0 Q0 -2.57 2.98 0 Q0 2.57 -2.98 0 Z" fill="none" stroke="#1a961a" stroke-width="0.85" transform="translate(565.18 445.02) rotate(209.34)"/>
<path d="M-2.85 0 Q0 -2.21 2.85 0 Q0 2.21 -2.85 0 Z" fill="none" stroke="#1a961a" stroke-width="0.85" transform="translate(568.26 443.05) rotate(261.97)"/>
<path d="M-2.59 0 Q0 -2.58 2.59 0 Q0 2.58 -2.59 0 Z" fill="none" stroke="#1a961a" stroke-width="0.85" transform="translate(571.12 444.05) rotate(307.29)"/>
<path d="M-3.14 0 Q0 -2.19 3.14 0 Q0 2.19 -3.14 0 Z" fill="none" stroke="#1a961a" stroke-width="0.85" transform="translate(573.13 446.56) rotate(353.36)"/>
<path d="M-3.04 0 Q0 -2.2 3.04 0 Q0 2.2 -3.04 0 Z" fill="none" stroke="#1a961a" stroke-width="0.85" transform="translate(571.81 451.86) rotate(196.19)"/>
<path d="M-2.73 0 Q0 -2.34 2.73 0 Q0 2.34 -2.73 0 Z" fill="none" stroke="#1a961a" stroke-width="0.85" transform="translate(574.33 449.43) rotate(246.62)"/>
<path d="M-2.98 0 Q0 -2.46 2.98 0 Q0 2.46 -2.98 0 Z" fill="none" stroke="#1a961a" stroke-width="0.85" transform="translate(577.74 449.3) rotate(296.45)"/>
<path d="M-3.2 0 Q0 -2.6 3.2 0 Q0 2.6 -3.2 0 Z" fill="none" stroke="#1a961a" stroke-width="0.85" transform="translate(580.11 451.81) rotate(343.79)"/>
<path d="M-3.12 0 Q0 -2.44 3.12 0 Q0 2.44 -3.12 0 Z" fill="none" stroke="#1a961a" stroke-width="0.85" transform="translate(585.8 447.59) rotate(278.93)"/>
<path d="M-2.51 0 Q0 -2.67 2.51 0 Q0 2.67 -2.51 0 Z" fill="none" stroke="#1a961a" stroke-width="0.85" transform="translate(588.19 449.77) rotate(325.67)"/>
<path d="M-2.69 0 Q0 -2.07 2.69 0 Q0 2.07 -2.69 0 Z" fill="none" stroke="#1a961a" stroke-width="0.85" transform="translate(588.78 453.2) rotate(380.08)"/>
<path d="M-3.18 0 Q0 -2.55 3.18 0 Q0 2.55 -3.18 0 Z" fill="none" stroke="#1a961a" stroke-width="0.85" transform="translate(585 457.54) rotate(287.85)"/>
<path d="M-3.17 0 Q0 -2.43 3.17 0 Q0 2.43 -3.17 0 Z" fill="none" stroke="#1a961a" stroke-width="0.85" transform="translate(587.65 459.93) rotate(336.01)"/>
<path d="M-3 0 Q0 -2.63 3 0 Q0 2.63 -3 0 Z" fill="none" stroke="#1a961a" stroke-width="0.85" transform="translate(587.29 463.82) rotate(390.14)"/>
<line x1="322.1" y1="94.8" x2="580.07" y2="94.8" stroke="#2fe02f" stroke-width="1.0" />
<line x1="320.62" y1="112.2" x2="582.55" y2="112.2" stroke="#2fe02f" stroke-width="1.0" />
<line x1="326.6" y1="82.7" x2="326.6" y2="134.5" stroke="#2fe02f" stroke-width="1.0" />
<line x1="326.6" y1="136" x2="326.6" y2="141" stroke="#2fe02f" stroke-width="0.8" stroke-dasharray="0.8 2.2"/>
<line x1="324.8" y1="96.6" x2="328.4" y2="93" stroke="#2fe02f" stroke-width="1.6" />
<line x1="324.8" y1="114" x2="328.4" y2="110.4" stroke="#2fe02f" stroke-width="1.6" />
<line x1="384.56" y1="82.7" x2="384.56" y2="134.5" stroke="#2fe02f" stroke-width="1.0" />
<line x1="384.56" y1="136" x2="384.56" y2="141" stroke="#2fe02f" stroke-width="0.8" stroke-dasharray="0.8 2.2"/>
<line x1="382.76" y1="96.6" x2="386.36" y2="93" stroke="#2fe02f" stroke-width="1.6" />
<line x1="382.76" y1="114" x2="386.36" y2="110.4" stroke="#2fe02f" stroke-width="1.6" />
<line x1="428.03" y1="82.7" x2="428.03" y2="134.5" stroke="#2fe02f" stroke-width="1.0" />
<line x1="428.03" y1="136" x2="428.03" y2="141" stroke="#2fe02f" stroke-width="0.8" stroke-dasharray="0.8 2.2"/>
<line x1="426.23" y1="96.6" x2="429.83" y2="93" stroke="#2fe02f" stroke-width="1.6" />
<line x1="426.23" y1="114" x2="429.83" y2="110.4" stroke="#2fe02f" stroke-width="1.6" />
<line x1="508.76" y1="82.7" x2="508.76" y2="134.5" stroke="#2fe02f" stroke-width="1.0" />
<line x1="508.76" y1="136" x2="508.76" y2="141" stroke="#2fe02f" stroke-width="0.8" stroke-dasharray="0.8 2.2"/>
<line x1="506.96" y1="96.6" x2="510.56" y2="93" stroke="#2fe02f" stroke-width="1.6" />
<line x1="506.96" y1="114" x2="510.56" y2="110.4" stroke="#2fe02f" stroke-width="1.6" />
<line x1="577.07" y1="82.7" x2="577.07" y2="134.5" stroke="#2fe02f" stroke-width="1.0" />
<line x1="577.07" y1="136" x2="577.07" y2="141" stroke="#2fe02f" stroke-width="0.8" stroke-dasharray="0.8 2.2"/>
<line x1="575.27" y1="96.6" x2="578.87" y2="93" stroke="#2fe02f" stroke-width="1.6" />
<line x1="575.27" y1="114" x2="578.87" y2="110.4" stroke="#2fe02f" stroke-width="1.6" />
<line x1="393.88" y1="106.7" x2="393.88" y2="130.5" stroke="#2fe02f" stroke-width="1.0" />
<line x1="393.88" y1="132" x2="393.88" y2="140" stroke="#2fe02f" stroke-width="0.8" stroke-dasharray="0.8 2.4"/>
<line x1="392.07" y1="114" x2="395.68" y2="110.4" stroke="#2fe02f" stroke-width="1.6" />
<line x1="418.72" y1="106.7" x2="418.72" y2="130.5" stroke="#2fe02f" stroke-width="1.0" />
<line x1="418.72" y1="132" x2="418.72" y2="140" stroke="#2fe02f" stroke-width="0.8" stroke-dasharray="0.8 2.4"/>
<line x1="416.92" y1="114" x2="420.52" y2="110.4" stroke="#2fe02f" stroke-width="1.6" />
<line x1="440.45" y1="106.7" x2="440.45" y2="130.5" stroke="#2fe02f" stroke-width="1.0" />
<line x1="440.45" y1="132" x2="440.45" y2="140" stroke="#2fe02f" stroke-width="0.8" stroke-dasharray="0.8 2.4"/>
<line x1="438.65" y1="114" x2="442.25" y2="110.4" stroke="#2fe02f" stroke-width="1.6" />
<line x1="471.5" y1="106.7" x2="471.5" y2="130.5" stroke="#2fe02f" stroke-width="1.0" />
<line x1="471.5" y1="132" x2="471.5" y2="140" stroke="#2fe02f" stroke-width="0.8" stroke-dasharray="0.8 2.4"/>
<line x1="469.7" y1="114" x2="473.3" y2="110.4" stroke="#2fe02f" stroke-width="1.6" />
<line x1="485.16" y1="106.7" x2="485.16" y2="130.5" stroke="#2fe02f" stroke-width="1.0" />
<line x1="485.16" y1="132" x2="485.16" y2="140" stroke="#2fe02f" stroke-width="0.8" stroke-dasharray="0.8 2.4"/>
<line x1="483.36" y1="114" x2="486.96" y2="110.4" stroke="#2fe02f" stroke-width="1.6" />
<line x1="503.79" y1="106.7" x2="503.79" y2="130.5" stroke="#2fe02f" stroke-width="1.0" />
<line x1="503.79" y1="132" x2="503.79" y2="140" stroke="#2fe02f" stroke-width="0.8" stroke-dasharray="0.8 2.4"/>
<line x1="501.99" y1="114" x2="505.59" y2="110.4" stroke="#2fe02f" stroke-width="1.6" />
<line x1="527.39" y1="106.7" x2="527.39" y2="130.5" stroke="#2fe02f" stroke-width="1.0" />
<line x1="527.39" y1="132" x2="527.39" y2="140" stroke="#2fe02f" stroke-width="0.8" stroke-dasharray="0.8 2.4"/>
<line x1="525.59" y1="114" x2="529.19" y2="110.4" stroke="#2fe02f" stroke-width="1.6" />
<line x1="558.44" y1="106.7" x2="558.44" y2="130.5" stroke="#2fe02f" stroke-width="1.0" />
<line x1="558.44" y1="132" x2="558.44" y2="140" stroke="#2fe02f" stroke-width="0.8" stroke-dasharray="0.8 2.4"/>
<line x1="556.64" y1="114" x2="560.24" y2="110.4" stroke="#2fe02f" stroke-width="1.6" />
<line x1="324.12" y1="106.7" x2="324.12" y2="131" stroke="#2fe02f" stroke-width="1.0" />
<line x1="322.32" y1="114" x2="325.92" y2="110.4" stroke="#2fe02f" stroke-width="1.6" />
<line x1="579.55" y1="106.7" x2="579.55" y2="131" stroke="#2fe02f" stroke-width="1.0" />
<line x1="577.75" y1="114" x2="581.35" y2="110.4" stroke="#2fe02f" stroke-width="1.6" />
<text class="ls" transform="translate(355.58 92.2) scale(0.84 1)" font-size="10.1" text-anchor="middle" fill="#1c1c1c" >2800</text>
<text class="ls" transform="translate(406.3 92.2) scale(0.84 1)" font-size="10.1" text-anchor="middle" fill="#1c1c1c" >2100</text>
<text class="ls" transform="translate(468.39 92.2) scale(0.84 1)" font-size="10.1" text-anchor="middle" fill="#1c1c1c" >3900</text>
<text class="ls" transform="translate(542.91 92.2) scale(0.84 1)" font-size="10.1" text-anchor="middle" fill="#1c1c1c" >3300</text>
<text class="ls" transform="translate(355.58 109.6) scale(0.84 1)" font-size="10.1" text-anchor="middle" fill="#1c1c1c" >2800</text>
<text class="ls" transform="translate(389.22 109.6) scale(0.84 1)" font-size="10.1" text-anchor="middle" fill="#1c1c1c" >450</text>
<text class="ls" transform="translate(406.3 109.6) scale(0.84 1)" font-size="10.1" text-anchor="middle" fill="#1c1c1c" >1200</text>
<text class="ls" transform="translate(423.37 109.6) scale(0.84 1)" font-size="10.1" text-anchor="middle" fill="#1c1c1c" >450</text>
<text class="ls" transform="translate(455.98 109.6) scale(0.84 1)" font-size="10.1" text-anchor="middle" fill="#1c1c1c" >1500</text>
<text class="ls" transform="translate(478.33 109.6) scale(0.84 1)" font-size="10.1" text-anchor="middle" fill="#1c1c1c" >660</text>
<text class="ls" transform="translate(506.28 109.6) scale(0.84 1)" font-size="10.1" text-anchor="middle" fill="#1c1c1c" >240</text>
<text class="ls" transform="translate(542.91 109.6) scale(0.84 1)" font-size="10.1" text-anchor="middle" fill="#1c1c1c" >1500</text>
<text class="ls" transform="translate(567.75 109.6) scale(0.84 1)" font-size="10.1" text-anchor="middle" fill="#1c1c1c" >900</text>
<text class="ls" transform="translate(434.24 121.5) scale(0.84 1)" font-size="10.1" text-anchor="middle" fill="#1c1c1c" >600</text>
<text class="ls" transform="translate(493.68 121.5) scale(0.84 1)" font-size="10.1" text-anchor="middle" fill="#1c1c1c" >900</text>
<text class="ls" transform="translate(517.78 121.5) scale(0.84 1)" font-size="10.1" text-anchor="middle" fill="#1c1c1c" >900</text>
<text class="ls" transform="translate(306.8 109.6) scale(0.84 1)" font-size="10.1" text-anchor="start" fill="#1c1c1c" >120</text>
<text class="ls" transform="translate(584.6 109.6) scale(0.84 1)" font-size="10.1" text-anchor="start" fill="#1c1c1c" >120</text>
<line x1="333.75" y1="518.9" x2="582.55" y2="518.9" stroke="#2fe02f" stroke-width="1.0" />
<line x1="323.1" y1="536.7" x2="580.07" y2="536.7" stroke="#2fe02f" stroke-width="1.0" />
<line x1="323.1" y1="553.4" x2="580.07" y2="553.4" stroke="#2fe02f" stroke-width="1.0" />
<line x1="357.65" y1="489" x2="357.65" y2="523.7" stroke="#2fe02f" stroke-width="1.0" />
<line x1="355.85" y1="520.7" x2="359.45" y2="517.1" stroke="#2fe02f" stroke-width="1.6" />
<line x1="394.91" y1="489" x2="394.91" y2="523.7" stroke="#2fe02f" stroke-width="1.0" />
<line x1="393.11" y1="520.7" x2="396.71" y2="517.1" stroke="#2fe02f" stroke-width="1.6" />
<line x1="424.93" y1="489" x2="424.93" y2="523.7" stroke="#2fe02f" stroke-width="1.0" />
<line x1="423.12" y1="520.7" x2="426.73" y2="517.1" stroke="#2fe02f" stroke-width="1.6" />
<line x1="499.45" y1="489" x2="499.45" y2="523.7" stroke="#2fe02f" stroke-width="1.0" />
<line x1="497.65" y1="520.7" x2="501.25" y2="517.1" stroke="#2fe02f" stroke-width="1.6" />
<line x1="527.39" y1="489" x2="527.39" y2="523.7" stroke="#2fe02f" stroke-width="1.0" />
<line x1="525.59" y1="520.7" x2="529.19" y2="517.1" stroke="#2fe02f" stroke-width="1.6" />
<line x1="558.44" y1="489" x2="558.44" y2="523.7" stroke="#2fe02f" stroke-width="1.0" />
<line x1="556.64" y1="520.7" x2="560.24" y2="517.1" stroke="#2fe02f" stroke-width="1.6" />
<line x1="579.55" y1="489" x2="579.55" y2="523.7" stroke="#2fe02f" stroke-width="1.0" />
<line x1="577.75" y1="520.7" x2="581.35" y2="517.1" stroke="#2fe02f" stroke-width="1.6" />
<line x1="326.6" y1="489" x2="326.6" y2="560.8" stroke="#2fe02f" stroke-width="1.0" />
<line x1="324.8" y1="555.2" x2="328.4" y2="551.6" stroke="#2fe02f" stroke-width="1.6" />
<line x1="324.8" y1="538.5" x2="328.4" y2="534.9" stroke="#2fe02f" stroke-width="1.6" />
<line x1="336.95" y1="489" x2="336.95" y2="560.8" stroke="#2fe02f" stroke-width="1.0" />
<line x1="335.15" y1="520.7" x2="338.75" y2="517.1" stroke="#2fe02f" stroke-width="1.6" />
<line x1="335.15" y1="538.5" x2="338.75" y2="534.9" stroke="#2fe02f" stroke-width="1.6" />
<line x1="415.61" y1="489" x2="415.61" y2="560.8" stroke="#2fe02f" stroke-width="1.0" />
<line x1="413.81" y1="520.7" x2="417.41" y2="517.1" stroke="#2fe02f" stroke-width="1.6" />
<line x1="413.81" y1="555.2" x2="417.41" y2="551.6" stroke="#2fe02f" stroke-width="1.6" />
<line x1="413.81" y1="538.5" x2="417.41" y2="534.9" stroke="#2fe02f" stroke-width="1.6" />
<line x1="508.76" y1="489" x2="508.76" y2="560.8" stroke="#2fe02f" stroke-width="1.0" />
<line x1="506.96" y1="520.7" x2="510.56" y2="517.1" stroke="#2fe02f" stroke-width="1.6" />
<line x1="506.96" y1="555.2" x2="510.56" y2="551.6" stroke="#2fe02f" stroke-width="1.6" />
<line x1="506.96" y1="538.5" x2="510.56" y2="534.9" stroke="#2fe02f" stroke-width="1.6" />
<line x1="577.07" y1="489" x2="577.07" y2="560.8" stroke="#2fe02f" stroke-width="1.0" />
<line x1="575.27" y1="520.7" x2="578.87" y2="517.1" stroke="#2fe02f" stroke-width="1.6" />
<line x1="575.27" y1="555.2" x2="578.87" y2="551.6" stroke="#2fe02f" stroke-width="1.6" />
<line x1="575.27" y1="538.5" x2="578.87" y2="534.9" stroke="#2fe02f" stroke-width="1.6" />
<text class="ls" transform="translate(347.3 515.9) scale(0.84 1)" font-size="10.1" text-anchor="middle" fill="#1c1c1c" >1000</text>
<text class="ls" transform="translate(376.28 515.9) scale(0.84 1)" font-size="10.1" text-anchor="middle" fill="#1c1c1c" >1800</text>
<text class="ls" transform="translate(405.26 515.9) scale(0.84 1)" font-size="10.1" text-anchor="middle" fill="#1c1c1c" >1000</text>
<text class="ls" transform="translate(462.19 515.9) scale(0.84 1)" font-size="10.1" text-anchor="middle" fill="#1c1c1c" >3600</text>
<text class="ls" transform="translate(501.7 515.9) scale(0.84 1)" font-size="10.1" text-anchor="middle" fill="#1c1c1c" >450</text>
<text class="ls" transform="translate(519.88 515.9) scale(0.84 1)" font-size="10.1" text-anchor="middle" fill="#1c1c1c" >900</text>
<text class="ls" transform="translate(542.91 515.9) scale(0.84 1)" font-size="10.1" text-anchor="middle" fill="#1c1c1c" >1500</text>
<text class="ls" transform="translate(567.75 515.9) scale(0.84 1)" font-size="10.1" text-anchor="middle" fill="#1c1c1c" >900</text>
<text class="ls" transform="translate(419.67 527.8) scale(0.84 1)" font-size="10.1" text-anchor="middle" fill="#1c1c1c" >450</text>
<text class="ls" transform="translate(584.4 515.9) scale(0.84 1)" font-size="10.1" text-anchor="start" fill="#1c1c1c" >120</text>
<text class="ls" transform="translate(332.18 534.2) scale(0.84 1)" font-size="10.1" text-anchor="middle" fill="#1c1c1c" >500</text>
<text class="ls" transform="translate(376.08 534.2) scale(0.84 1)" font-size="10.1" text-anchor="middle" fill="#1c1c1c" >3800</text>
<text class="ls" transform="translate(462.19 534.2) scale(0.84 1)" font-size="10.1" text-anchor="middle" fill="#1c1c1c" >4500</text>
<text class="ls" transform="translate(545.8 534.2) scale(0.84 1)" font-size="10.1" text-anchor="middle" fill="#1c1c1c" >3300</text>
<text class="ls" transform="translate(452 550.8) scale(0.84 1)" font-size="10.1" text-anchor="middle" fill="#1c1c1c" >12100</text>
<line x1="257.4" y1="158.05" x2="257.4" y2="412.45" stroke="#2fe02f" stroke-width="1.0" />
<line x1="274.1" y1="158.05" x2="274.1" y2="477.03" stroke="#2fe02f" stroke-width="1.0" />
<line x1="290.4" y1="155.07" x2="290.4" y2="415.43" stroke="#2fe02f" stroke-width="1.0" />
<line x1="247.3" y1="161.05" x2="308" y2="161.05" stroke="#2fe02f" stroke-width="1.0" />
<line x1="272.3" y1="162.85" x2="275.9" y2="159.25" stroke="#2fe02f" stroke-width="1.6" />
<line x1="288.6" y1="162.85" x2="292.2" y2="159.25" stroke="#2fe02f" stroke-width="1.6" />
<line x1="255.6" y1="162.85" x2="259.2" y2="159.25" stroke="#2fe02f" stroke-width="1.6" />
<line x1="310" y1="161.05" x2="322" y2="161.05" stroke="#2fe02f" stroke-width="0.8" stroke-dasharray="0.8 5"/>
<line x1="247.3" y1="235.57" x2="308" y2="235.57" stroke="#2fe02f" stroke-width="1.0" />
<line x1="272.3" y1="237.37" x2="275.9" y2="233.77" stroke="#2fe02f" stroke-width="1.6" />
<line x1="288.6" y1="237.37" x2="292.2" y2="233.77" stroke="#2fe02f" stroke-width="1.6" />
<line x1="310" y1="235.57" x2="322" y2="235.57" stroke="#2fe02f" stroke-width="0.8" stroke-dasharray="0.8 5"/>
<line x1="247.3" y1="285.25" x2="308" y2="285.25" stroke="#2fe02f" stroke-width="1.0" />
<line x1="272.3" y1="287.05" x2="275.9" y2="283.45" stroke="#2fe02f" stroke-width="1.6" />
<line x1="288.6" y1="287.05" x2="292.2" y2="283.45" stroke="#2fe02f" stroke-width="1.6" />
<line x1="310" y1="285.25" x2="322" y2="285.25" stroke="#2fe02f" stroke-width="0.8" stroke-dasharray="0.8 5"/>
<line x1="247.3" y1="322.51" x2="308" y2="322.51" stroke="#2fe02f" stroke-width="1.0" />
<line x1="272.3" y1="324.31" x2="275.9" y2="320.71" stroke="#2fe02f" stroke-width="1.6" />
<line x1="288.6" y1="324.31" x2="292.2" y2="320.71" stroke="#2fe02f" stroke-width="1.6" />
<line x1="310" y1="322.51" x2="322" y2="322.51" stroke="#2fe02f" stroke-width="0.8" stroke-dasharray="0.8 5"/>
<line x1="247.3" y1="409.45" x2="308" y2="409.45" stroke="#2fe02f" stroke-width="1.0" />
<line x1="272.3" y1="411.25" x2="275.9" y2="407.65" stroke="#2fe02f" stroke-width="1.6" />
<line x1="288.6" y1="411.25" x2="292.2" y2="407.65" stroke="#2fe02f" stroke-width="1.6" />
<line x1="255.6" y1="411.25" x2="259.2" y2="407.65" stroke="#2fe02f" stroke-width="1.6" />
<line x1="310" y1="409.45" x2="322" y2="409.45" stroke="#2fe02f" stroke-width="0.8" stroke-dasharray="0.8 5"/>
<line x1="268.2" y1="204.52" x2="308" y2="204.52" stroke="#2fe02f" stroke-width="1.0" />
<line x1="272.3" y1="206.32" x2="275.9" y2="202.72" stroke="#2fe02f" stroke-width="1.6" />
<line x1="285.2" y1="210.73" x2="308" y2="210.73" stroke="#2fe02f" stroke-width="1.0" />
<line x1="288.6" y1="212.53" x2="292.2" y2="208.93" stroke="#2fe02f" stroke-width="1.6" />
<line x1="285.2" y1="229.36" x2="308" y2="229.36" stroke="#2fe02f" stroke-width="1.0" />
<line x1="288.6" y1="231.16" x2="292.2" y2="227.56" stroke="#2fe02f" stroke-width="1.6" />
<line x1="285.2" y1="247.99" x2="308" y2="247.99" stroke="#2fe02f" stroke-width="1.0" />
<line x1="288.6" y1="249.79" x2="292.2" y2="246.19" stroke="#2fe02f" stroke-width="1.6" />
<line x1="285.2" y1="272.83" x2="308" y2="272.83" stroke="#2fe02f" stroke-width="1.0" />
<line x1="288.6" y1="274.63" x2="292.2" y2="271.03" stroke="#2fe02f" stroke-width="1.6" />
<line x1="285.2" y1="294.56" x2="308" y2="294.56" stroke="#2fe02f" stroke-width="1.0" />
<line x1="288.6" y1="296.37" x2="292.2" y2="292.76" stroke="#2fe02f" stroke-width="1.6" />
<line x1="285.2" y1="313.2" x2="308" y2="313.2" stroke="#2fe02f" stroke-width="1.0" />
<line x1="288.6" y1="315" x2="292.2" y2="311.4" stroke="#2fe02f" stroke-width="1.6" />
<line x1="289.4" y1="158.57" x2="308" y2="158.57" stroke="#2fe02f" stroke-width="1.0" />
<line x1="288.6" y1="160.37" x2="292.2" y2="156.77" stroke="#2fe02f" stroke-width="1.6" />
<line x1="289.4" y1="411.93" x2="308" y2="411.93" stroke="#2fe02f" stroke-width="1.0" />
<line x1="288.6" y1="413.73" x2="292.2" y2="410.13" stroke="#2fe02f" stroke-width="1.6" />
<line x1="269.4" y1="474.03" x2="308" y2="474.03" stroke="#2fe02f" stroke-width="1.0" />
<line x1="272.3" y1="475.83" x2="275.9" y2="472.23" stroke="#2fe02f" stroke-width="1.6" />
<text class="ls" transform="translate(254.8 281.11) rotate(-90) scale(0.84 1)" font-size="10.1" text-anchor="middle" fill="#1c1c1c" >12000</text>
<text class="ls" transform="translate(271.4 182.79) rotate(-90) scale(0.84 1)" font-size="10.1" text-anchor="middle" fill="#1c1c1c" >2100</text>
<text class="ls" transform="translate(271.4 220.05) rotate(-90) scale(0.84 1)" font-size="10.1" text-anchor="middle" fill="#1c1c1c" >1500</text>
<text class="ls" transform="translate(271.4 260.41) rotate(-90) scale(0.84 1)" font-size="10.1" text-anchor="middle" fill="#1c1c1c" >2400</text>
<text class="ls" transform="translate(271.4 303.88) rotate(-90) scale(0.84 1)" font-size="10.1" text-anchor="middle" fill="#1c1c1c" >1800</text>
<text class="ls" transform="translate(271.4 365.98) rotate(-90) scale(0.84 1)" font-size="10.1" text-anchor="middle" fill="#1c1c1c" >4200</text>
<text class="ls" transform="translate(271.4 441.74) rotate(-90) scale(0.84 1)" font-size="10.1" text-anchor="middle" fill="#1c1c1c" >3120</text>
<text class="ls" transform="translate(287.7 185.89) rotate(-90) scale(0.84 1)" font-size="10.1" text-anchor="middle" fill="#1c1c1c" >2400</text>
<text class="ls" transform="translate(287.7 220.05) rotate(-90) scale(0.84 1)" font-size="10.1" text-anchor="middle" fill="#1c1c1c" >900</text>
<text class="ls" transform="translate(287.7 260.41) rotate(-90) scale(0.84 1)" font-size="10.1" text-anchor="middle" fill="#1c1c1c" >1200</text>
<text class="ls" transform="translate(287.7 289.91) rotate(-90) scale(0.84 1)" font-size="10.1" text-anchor="middle" fill="#1c1c1c" >450</text>
<text class="ls" transform="translate(287.7 303.88) rotate(-90) scale(0.84 1)" font-size="10.1" text-anchor="middle" fill="#1c1c1c" >900</text>
<text class="ls" transform="translate(287.7 317.85) rotate(-90) scale(0.84 1)" font-size="10.1" text-anchor="middle" fill="#1c1c1c" >450</text>
<text class="ls" transform="translate(287.7 365.98) rotate(-90) scale(0.84 1)" font-size="10.1" text-anchor="middle" fill="#1c1c1c" >4200</text>
<text class="ls" transform="translate(287.7 242.38) rotate(-90) scale(0.84 1)" font-size="10.1" text-anchor="middle" fill="#1c1c1c" >600</text>
<text class="ls" transform="translate(299.8 232.97) rotate(-90) scale(0.84 1)" font-size="10.1" text-anchor="middle" fill="#1c1c1c" >300</text>
<text class="ls" transform="translate(299.8 279.34) rotate(-90) scale(0.84 1)" font-size="10.1" text-anchor="middle" fill="#1c1c1c" >600</text>
<text class="ls" transform="translate(287.7 154.6) rotate(-90) scale(0.84 1)" font-size="10.1" text-anchor="middle" fill="#1c1c1c" >120</text>
<text class="ls" transform="translate(287.7 416.4) rotate(-90) scale(0.84 1)" font-size="10.1" text-anchor="middle" fill="#1c1c1c" >120</text>
<line x1="611.2" y1="158.05" x2="611.2" y2="412.45" stroke="#2fe02f" stroke-width="1.0" />
<line x1="627.5" y1="158.05" x2="627.5" y2="412.45" stroke="#2fe02f" stroke-width="1.0" />
<line x1="585.4" y1="161.05" x2="636" y2="161.05" stroke="#2fe02f" stroke-width="1.0" />
<line x1="609.4" y1="162.85" x2="613" y2="159.25" stroke="#2fe02f" stroke-width="1.6" />
<line x1="625.7" y1="162.85" x2="629.3" y2="159.25" stroke="#2fe02f" stroke-width="1.6" />
<line x1="585.4" y1="235.57" x2="636" y2="235.57" stroke="#2fe02f" stroke-width="1.0" />
<line x1="609.4" y1="237.37" x2="613" y2="233.77" stroke="#2fe02f" stroke-width="1.6" />
<line x1="585.4" y1="322.51" x2="636" y2="322.51" stroke="#2fe02f" stroke-width="1.0" />
<line x1="609.4" y1="324.31" x2="613" y2="320.71" stroke="#2fe02f" stroke-width="1.6" />
<line x1="585.4" y1="372.19" x2="636" y2="372.19" stroke="#2fe02f" stroke-width="1.0" />
<line x1="609.4" y1="373.99" x2="613" y2="370.39" stroke="#2fe02f" stroke-width="1.6" />
<line x1="585.4" y1="409.45" x2="636" y2="409.45" stroke="#2fe02f" stroke-width="1.0" />
<line x1="609.4" y1="411.25" x2="613" y2="407.65" stroke="#2fe02f" stroke-width="1.6" />
<line x1="625.7" y1="411.25" x2="629.3" y2="407.65" stroke="#2fe02f" stroke-width="1.6" />
<text class="ls" transform="translate(608.4 198.31) rotate(-90) scale(0.84 1)" font-size="10.1" text-anchor="middle" fill="#1c1c1c" >3600</text>
<text class="ls" transform="translate(608.4 279.04) rotate(-90) scale(0.84 1)" font-size="10.1" text-anchor="middle" fill="#1c1c1c" >4200</text>
<text class="ls" transform="translate(608.4 347.35) rotate(-90) scale(0.84 1)" font-size="10.1" text-anchor="middle" fill="#1c1c1c" >2400</text>
<text class="ls" transform="translate(608.4 390.82) rotate(-90) scale(0.84 1)" font-size="10.1" text-anchor="middle" fill="#1c1c1c" >1800</text>
<text class="ls" transform="translate(624.7 285.25) rotate(-90) scale(0.84 1)" font-size="10.1" text-anchor="middle" fill="#1c1c1c" >12000</text>
<line x1="356.5" y1="199.6" x2="389" y2="199.6" stroke="#2fe02f" stroke-width="1.0" />
<line x1="359.8" y1="195.5" x2="359.8" y2="204.5" stroke="#2fe02f" stroke-width="1.0" />
<line x1="385.2" y1="195.5" x2="385.2" y2="204.5" stroke="#2fe02f" stroke-width="1.0" />
<line x1="358" y1="201.4" x2="361.6" y2="197.8" stroke="#2fe02f" stroke-width="1.6" />
<line x1="383.4" y1="201.4" x2="387" y2="197.8" stroke="#2fe02f" stroke-width="1.6" />
<text class="ls" transform="translate(372 196.8) scale(0.84 1)" font-size="10.1" text-anchor="middle" fill="#1c1c1c" >1200</text>
<line x1="351.9" y1="201.5" x2="351.9" y2="239" stroke="#2fe02f" stroke-width="1.0" />
<line x1="350.1" y1="207.1" x2="353.7" y2="203.5" stroke="#2fe02f" stroke-width="1.6" />
<line x1="350.1" y1="219.5" x2="353.7" y2="215.9" stroke="#2fe02f" stroke-width="1.6" />
<line x1="350.1" y1="238.2" x2="353.7" y2="234.6" stroke="#2fe02f" stroke-width="1.6" />
<line x1="351.9" y1="205.3" x2="358" y2="205.3" stroke="#2fe02f" stroke-width="1.0" />
<line x1="351.9" y1="217.7" x2="358" y2="217.7" stroke="#2fe02f" stroke-width="1.0" />
<line x1="351.9" y1="236.4" x2="358" y2="236.4" stroke="#2fe02f" stroke-width="1.0" />
<text class="ls" transform="translate(349.2 215) rotate(-90) scale(0.84 1)" font-size="10.1" text-anchor="middle" fill="#1c1c1c" >870 300x2</text>
<line x1="387" y1="204.2" x2="397.2" y2="204.2" stroke="#2fe02f" stroke-width="1.0" />
<line x1="397.2" y1="199.5" x2="397.2" y2="208.5" stroke="#2fe02f" stroke-width="1.0" />
<line x1="395.4" y1="206" x2="399" y2="202.4" stroke="#2fe02f" stroke-width="1.6" />
<text class="ls" transform="translate(400.6 194) rotate(-90) scale(0.84 1)" font-size="10.1" text-anchor="middle" fill="#1c1c1c" >120</text>
<line x1="466.9" y1="132.5" x2="466.9" y2="162" stroke="#2fe02f" stroke-width="1.0" />
<line x1="465.1" y1="138.1" x2="468.7" y2="134.5" stroke="#2fe02f" stroke-width="1.6" />
<line x1="465.1" y1="150.6" x2="468.7" y2="147" stroke="#2fe02f" stroke-width="1.6" />
<line x1="465.1" y1="161" x2="468.7" y2="157.4" stroke="#2fe02f" stroke-width="1.6" />
<line x1="466.9" y1="136.3" x2="473" y2="136.3" stroke="#2fe02f" stroke-width="1.0" />
<line x1="466.9" y1="148.8" x2="473" y2="148.8" stroke="#2fe02f" stroke-width="1.0" />
<text class="ls" transform="translate(464.2 146.2) rotate(-90) scale(0.84 1)" font-size="10.1" text-anchor="middle" fill="#1c1c1c" >500 300x2</text>
<line x1="389.5" y1="280" x2="420" y2="280" stroke="#2fe02f" stroke-width="1.0" />
<line x1="392.8" y1="275.5" x2="392.8" y2="291" stroke="#2fe02f" stroke-width="1.0" />
<line x1="391" y1="281.8" x2="394.6" y2="278.2" stroke="#2fe02f" stroke-width="1.6" />
<line x1="411.5" y1="281.8" x2="415.1" y2="278.2" stroke="#2fe02f" stroke-width="1.6" />
<line x1="415" y1="281.8" x2="418.6" y2="278.2" stroke="#2fe02f" stroke-width="1.6" />
<text class="ls" transform="translate(402.6 277.4) scale(0.84 1)" font-size="10.1" text-anchor="middle" fill="#1c1c1c" >900</text>
<text class="ls" transform="translate(419 277.4) scale(0.84 1)" font-size="10.1" text-anchor="middle" fill="#1c1c1c" >180</text>
<line x1="333" y1="335.3" x2="390" y2="335.3" stroke="#2fe02f" stroke-width="1.0" />
<line x1="336.6" y1="329" x2="336.6" y2="342" stroke="#2fe02f" stroke-width="1.0" />
<line x1="386.8" y1="329" x2="386.8" y2="342" stroke="#2fe02f" stroke-width="1.0" />
<line x1="334.8" y1="337.1" x2="338.4" y2="333.5" stroke="#2fe02f" stroke-width="1.6" />
<line x1="385" y1="337.1" x2="388.6" y2="333.5" stroke="#2fe02f" stroke-width="1.6" />
<text class="ls" transform="translate(362.2 332.6) scale(0.84 1)" font-size="10.1" text-anchor="middle" fill="#1c1c1c" >2400</text>
<line x1="522.3" y1="317" x2="522.3" y2="338.5" stroke="#2fe02f" stroke-width="1.0" />
<line x1="520.5" y1="322.4" x2="524.1" y2="318.8" stroke="#2fe02f" stroke-width="1.6" />
<line x1="520.5" y1="326.7" x2="524.1" y2="323.1" stroke="#2fe02f" stroke-width="1.6" />
<line x1="520.5" y1="336.8" x2="524.1" y2="333.2" stroke="#2fe02f" stroke-width="1.6" />
<line x1="522.3" y1="335" x2="528" y2="335" stroke="#2fe02f" stroke-width="1.0" />
<line x1="522.3" y1="320.6" x2="527" y2="320.6" stroke="#2fe02f" stroke-width="1.0" />
<text class="ls" transform="translate(519.2 325.3) rotate(-90) scale(0.84 1)" font-size="10.1" text-anchor="middle" fill="#1c1c1c" >500 240</text>
<line x1="525.7" y1="370.5" x2="525.7" y2="416.5" stroke="#2fe02f" stroke-width="1.0" />
<line x1="523.9" y1="375.7" x2="527.5" y2="372.1" stroke="#2fe02f" stroke-width="1.6" />
<line x1="523.9" y1="402.6" x2="527.5" y2="399" stroke="#2fe02f" stroke-width="1.6" />
<line x1="523.9" y1="414.7" x2="527.5" y2="411.1" stroke="#2fe02f" stroke-width="1.6" />
<line x1="521.5" y1="373.9" x2="530" y2="373.9" stroke="#2fe02f" stroke-width="1.0" />
<line x1="521.5" y1="400.8" x2="530" y2="400.8" stroke="#2fe02f" stroke-width="1.0" />
<line x1="521.5" y1="412.9" x2="530" y2="412.9" stroke="#2fe02f" stroke-width="1.0" />
<text class="ls" transform="translate(523 387.5) rotate(-90) scale(0.84 1)" font-size="10.1" text-anchor="middle" fill="#1c1c1c" >1200</text>
<text class="ls" transform="translate(523 413) rotate(-90) scale(0.84 1)" font-size="10.1" text-anchor="middle" fill="#1c1c1c" >300x2</text>
<text class="ls" transform="translate(338.6 258.3) scale(0.95 1)" font-size="10.3" text-anchor="start" fill="#27d827" >-0.300</text>
<line x1="338.2" y1="259.9" x2="362.6" y2="259.9" stroke="#2fe02f" stroke-width="0.9" />
<path d="M338.4 259.9 L342.9 264.3 L347.2 259.9" fill="none" stroke="#2fe02f" stroke-width="0.9" />
<text class="ls" transform="translate(465 282.9) scale(0.95 1)" font-size="10.3" text-anchor="start" fill="#27d827" >±0.000</text>
<line x1="464.6" y1="284.5" x2="487.5" y2="284.5" stroke="#2fe02f" stroke-width="0.9" />
<path d="M464.8 284.5 L469.3 288.9 L473.6 284.5" fill="none" stroke="#2fe02f" stroke-width="0.9" />
<text class="ls" transform="translate(531.6 425.2) scale(0.95 1)" font-size="10.3" text-anchor="start" fill="#27d827" >-0.450</text>
<line x1="531.2" y1="426.8" x2="555.1" y2="426.8" stroke="#2fe02f" stroke-width="0.9" />
<path d="M531.4 426.8 L535.9 431.2 L540.2 426.8" fill="none" stroke="#2fe02f" stroke-width="0.9" />
<circle cx="326.6" cy="74.4" r="8.25" fill="#fff" stroke="#2fe02f" stroke-width="0.9"/>
<text class="lf" transform="translate(326.6 79.4) scale(1.5 1)" font-size="15.2" text-anchor="middle" fill="#333" >1</text>
<circle cx="384.56" cy="74.4" r="8.25" fill="#fff" stroke="#2fe02f" stroke-width="0.9"/>
<text class="lf" transform="translate(384.56 79.4) scale(1.5 1)" font-size="15.2" text-anchor="middle" fill="#333" >3</text>
<circle cx="428.03" cy="74.4" r="8.25" fill="#fff" stroke="#2fe02f" stroke-width="0.9"/>
<text class="lf" transform="translate(428.03 79.4) scale(1.5 1)" font-size="15.2" text-anchor="middle" fill="#333" >5</text>
<circle cx="508.76" cy="74.4" r="8.25" fill="#fff" stroke="#2fe02f" stroke-width="0.9"/>
<text class="lf" transform="translate(508.76 79.4) scale(1.5 1)" font-size="15.2" text-anchor="middle" fill="#333" >6</text>
<circle cx="577.07" cy="74.4" r="8.25" fill="#fff" stroke="#2fe02f" stroke-width="0.9"/>
<text class="lf" transform="translate(577.07 79.4) scale(1.5 1)" font-size="15.2" text-anchor="middle" fill="#333" >7</text>
<circle cx="317.8" cy="570" r="8.25" fill="#fff" stroke="#2fe02f" stroke-width="0.9"/>
<text class="lf" transform="translate(317.8 575) scale(1.5 1)" font-size="15.2" text-anchor="middle" fill="#333" >1</text>
<circle cx="345.3" cy="570" r="8.25" fill="#fff" stroke="#2fe02f" stroke-width="0.9"/>
<text class="lf" transform="translate(345.3 575) scale(1.5 1)" font-size="15.2" text-anchor="middle" fill="#333" >2</text>
<line x1="326.6" y1="560.5" x2="325" y2="563.2" stroke="#2fe02f" stroke-width="1.0" />
<line x1="336.95" y1="560.5" x2="338.4" y2="563.4" stroke="#2fe02f" stroke-width="1.0" />
<line x1="415.61" y1="560" x2="415.61" y2="562" stroke="#2fe02f" stroke-width="1.0" />
<circle cx="415.61" cy="570" r="8.25" fill="#fff" stroke="#2fe02f" stroke-width="0.9"/>
<text class="lf" transform="translate(415.61 575) scale(1.5 1)" font-size="15.2" text-anchor="middle" fill="#333" >4</text>
<line x1="508.76" y1="560" x2="508.76" y2="562" stroke="#2fe02f" stroke-width="1.0" />
<circle cx="508.76" cy="570" r="8.25" fill="#fff" stroke="#2fe02f" stroke-width="0.9"/>
<text class="lf" transform="translate(508.76 575) scale(1.5 1)" font-size="15.2" text-anchor="middle" fill="#333" >6</text>
<line x1="577.07" y1="560" x2="577.07" y2="562" stroke="#2fe02f" stroke-width="1.0" />
<circle cx="577.07" cy="570" r="8.25" fill="#fff" stroke="#2fe02f" stroke-width="0.9"/>
<text class="lf" transform="translate(577.07 575) scale(1.5 1)" font-size="15.2" text-anchor="middle" fill="#333" >7</text>
<circle cx="238.9" cy="161.15" r="8.25" fill="#fff" stroke="#2fe02f" stroke-width="0.9"/>
<text class="lf" transform="translate(238.9 166.05) scale(1.08 1)" font-size="14.6" text-anchor="middle" fill="#1a1a1a" >F</text>
<circle cx="644.3" cy="161.15" r="8.25" fill="#fff" stroke="#2fe02f" stroke-width="0.9"/>
<text class="lf" transform="translate(644.3 166.05) scale(1.08 1)" font-size="14.6" text-anchor="middle" fill="#1a1a1a" >F</text>
<circle cx="238.9" cy="235.67" r="8.25" fill="#fff" stroke="#2fe02f" stroke-width="0.9"/>
<text class="lf" transform="translate(238.9 240.57) scale(1.08 1)" font-size="14.6" text-anchor="middle" fill="#1a1a1a" >E</text>
<circle cx="644.3" cy="235.67" r="8.25" fill="#fff" stroke="#2fe02f" stroke-width="0.9"/>
<text class="lf" transform="translate(644.3 240.57) scale(1.08 1)" font-size="14.6" text-anchor="middle" fill="#1a1a1a" >E</text>
<circle cx="238.9" cy="285.35" r="8.25" fill="#fff" stroke="#2fe02f" stroke-width="0.9"/>
<text class="lf" transform="translate(238.9 290.25) scale(1.08 1)" font-size="14.6" text-anchor="middle" fill="#1a1a1a" >D</text>
<circle cx="238.9" cy="322.61" r="8.25" fill="#fff" stroke="#2fe02f" stroke-width="0.9"/>
<text class="lf" transform="translate(238.9 327.51) scale(1.08 1)" font-size="14.6" text-anchor="middle" fill="#1a1a1a" >C</text>
<circle cx="644.3" cy="322.61" r="8.25" fill="#fff" stroke="#2fe02f" stroke-width="0.9"/>
<text class="lf" transform="translate(644.3 327.51) scale(1.08 1)" font-size="14.6" text-anchor="middle" fill="#1a1a1a" >C</text>
<circle cx="644.3" cy="372.29" r="8.25" fill="#fff" stroke="#2fe02f" stroke-width="0.9"/>
<text class="lf" transform="translate(644.3 377.19) scale(1.08 1)" font-size="14.6" text-anchor="middle" fill="#1a1a1a" >B</text>
<circle cx="238.9" cy="409.55" r="8.25" fill="#fff" stroke="#2fe02f" stroke-width="0.9"/>
<text class="lf" transform="translate(238.9 414.45) scale(1.08 1)" font-size="14.6" text-anchor="middle" fill="#1a1a1a" >A</text>
<circle cx="644.3" cy="409.55" r="8.25" fill="#fff" stroke="#2fe02f" stroke-width="0.9"/>
<text class="lf" transform="translate(644.3 414.45) scale(1.08 1)" font-size="14.6" text-anchor="middle" fill="#1a1a1a" >A</text>
<text class="ls" transform="translate(396.4 155.8) scale(0.9 1)" font-size="9.4" text-anchor="start" fill="#1c1c1c" >C-3</text>
<text class="ls" transform="translate(440.2 155.8) scale(0.9 1)" font-size="9.4" text-anchor="start" fill="#1c1c1c" >C-4</text>
<text class="ls" transform="translate(487.8 171.8) scale(0.9 1)" font-size="9.4" text-anchor="start" fill="#1c1c1c" >M-1</text>
<text class="ls" transform="translate(535.2 146.7) scale(0.9 1)" font-size="9.4" text-anchor="start" fill="#1c1c1c" >C-1</text>
<text class="ls" transform="translate(361.8 247.3) scale(0.9 1)" font-size="9.4" text-anchor="start" fill="#1c1c1c" >M-7</text>
<text class="ls" transform="translate(406.8 247.5) scale(0.9 1)" font-size="9.4" text-anchor="start" fill="#1c1c1c" >M-4</text>
<text class="ls" transform="translate(487.2 246.9) scale(0.9 1)" font-size="9.4" text-anchor="start" fill="#1c1c1c" >M-3</text>
<text class="ls" transform="translate(408.2 215.2) scale(0.9 1)" font-size="9.4" text-anchor="start" fill="#1c1c1c" >M-5</text>
<text class="ls" transform="translate(395.2 295.4) scale(0.9 1)" font-size="9.4" text-anchor="start" fill="#1c1c1c" >M-3</text>
<text class="ls" transform="translate(456.2 366.3) scale(0.9 1)" font-size="9.4" text-anchor="start" fill="#1c1c1c" >M-2</text>
<text class="ls" transform="translate(366.4 405) scale(0.9 1)" font-size="9.4" text-anchor="start" fill="#1c1c1c" >C-2</text>
<text class="ls" transform="translate(535 317.6) scale(0.9 1)" font-size="9.4" text-anchor="start" fill="#1c1c1c" >C-1</text>
<text class="ls" transform="translate(381.2 209) rotate(-90) scale(0.9 1)" font-size="9.4" text-anchor="middle" fill="#1c1c1c" >C-5</text>
<text class="ls" transform="translate(322.6 262.7) rotate(-90) scale(0.9 1)" font-size="9.4" text-anchor="middle" fill="#1c1c1c" >C-3</text>
<text class="ls" transform="translate(331.8 306) rotate(-90) scale(0.9 1)" font-size="9.4" text-anchor="middle" fill="#1c1c1c" >C-5</text>
<text class="ls" transform="translate(517.2 221.6) rotate(-90) scale(0.9 1)" font-size="9.4" text-anchor="middle" fill="#1c1c1c" >M-3</text>
<text class="ls" transform="translate(395.6 303) rotate(-90) scale(0.9 1)" font-size="9.4" text-anchor="middle" fill="#1c1c1c" >M-4</text>
<text class="cj" transform="translate(352.3 184.8) scale(0.5 1)" font-size="10.6" text-anchor="middle" fill="#111" font-weight="900">储藏</text>
<text class="cj" transform="translate(464.7 203.3) scale(0.5 1)" font-size="10.6" text-anchor="middle" fill="#111" font-weight="900">厨房</text>
<text class="cj" transform="translate(543.5 203.3) scale(0.5 1)" font-size="10.6" text-anchor="middle" fill="#111" font-weight="900">客卧</text>
<text class="cj" transform="translate(542.3 272.8) scale(0.5 1)" font-size="10.2" text-anchor="middle" fill="#111" font-weight="900">餐厅</text>
<text class="cj" transform="translate(463.5 304.6) scale(0.47 1)" font-size="10.6" text-anchor="middle" fill="#111" font-weight="900">会客厅</text>
<text class="cj" transform="translate(455.2 443.7) scale(0.48 1)" font-size="14.5" text-anchor="middle" fill="#111" font-weight="900">围合院</text>
<text class="cj" transform="translate(394 358) rotate(-90) scale(0.5 1)" font-size="10.6" text-anchor="middle" fill="#111" font-weight="900">卧室</text>
<text class="cj" transform="translate(404.7 267.2) scale(0.75 1)" font-size="8.2" text-anchor="middle" fill="#111" >上</text>
<line x1="298.4" y1="268.2" x2="313.8" y2="268.2" stroke="#111" stroke-width="2.0" />
<text class="ls" transform="translate(303.5 266.2) scale(0.8 1)" font-size="11" text-anchor="middle" fill="#111" >1</text>
<line x1="586.3" y1="252.4" x2="601" y2="252.4" stroke="#111" stroke-width="1.2" />
<text class="ls" transform="translate(593.4 250) scale(0.8 1)" font-size="11" text-anchor="middle" fill="#111" >1</text>
<path d="M263.9 95.5 L275.08 99.57 L281.04 109.88 L278.97 121.6 L269.85 129.25 L257.95 129.25 L248.83 121.6 L246.76 109.88 L252.72 99.57 Z" fill="none" stroke="#222" stroke-width="0.8" />
<path d="M263.9 96.2 L264.9 107.6 L265.9 108.8 L267.4 129.5 L260.4 129.5 L261.9 108.8 L262.9 107.6 Z" fill="#000" stroke="#000" stroke-width="0.3" />
</svg>
<div class="brand">居久家轻钢别墅</div>
<div class="hr" style="left:708px;width:27px;top:56px"></div>
<div class="sub">轻钢结构装配式建筑</div>
<div class="hr" style="left:826px;width:27px"></div>
<div class="title">一层平面图</div><div class="scale">1:100</div><div class="uline"></div>
<div class="tag">J-19</div>
</body></html>
